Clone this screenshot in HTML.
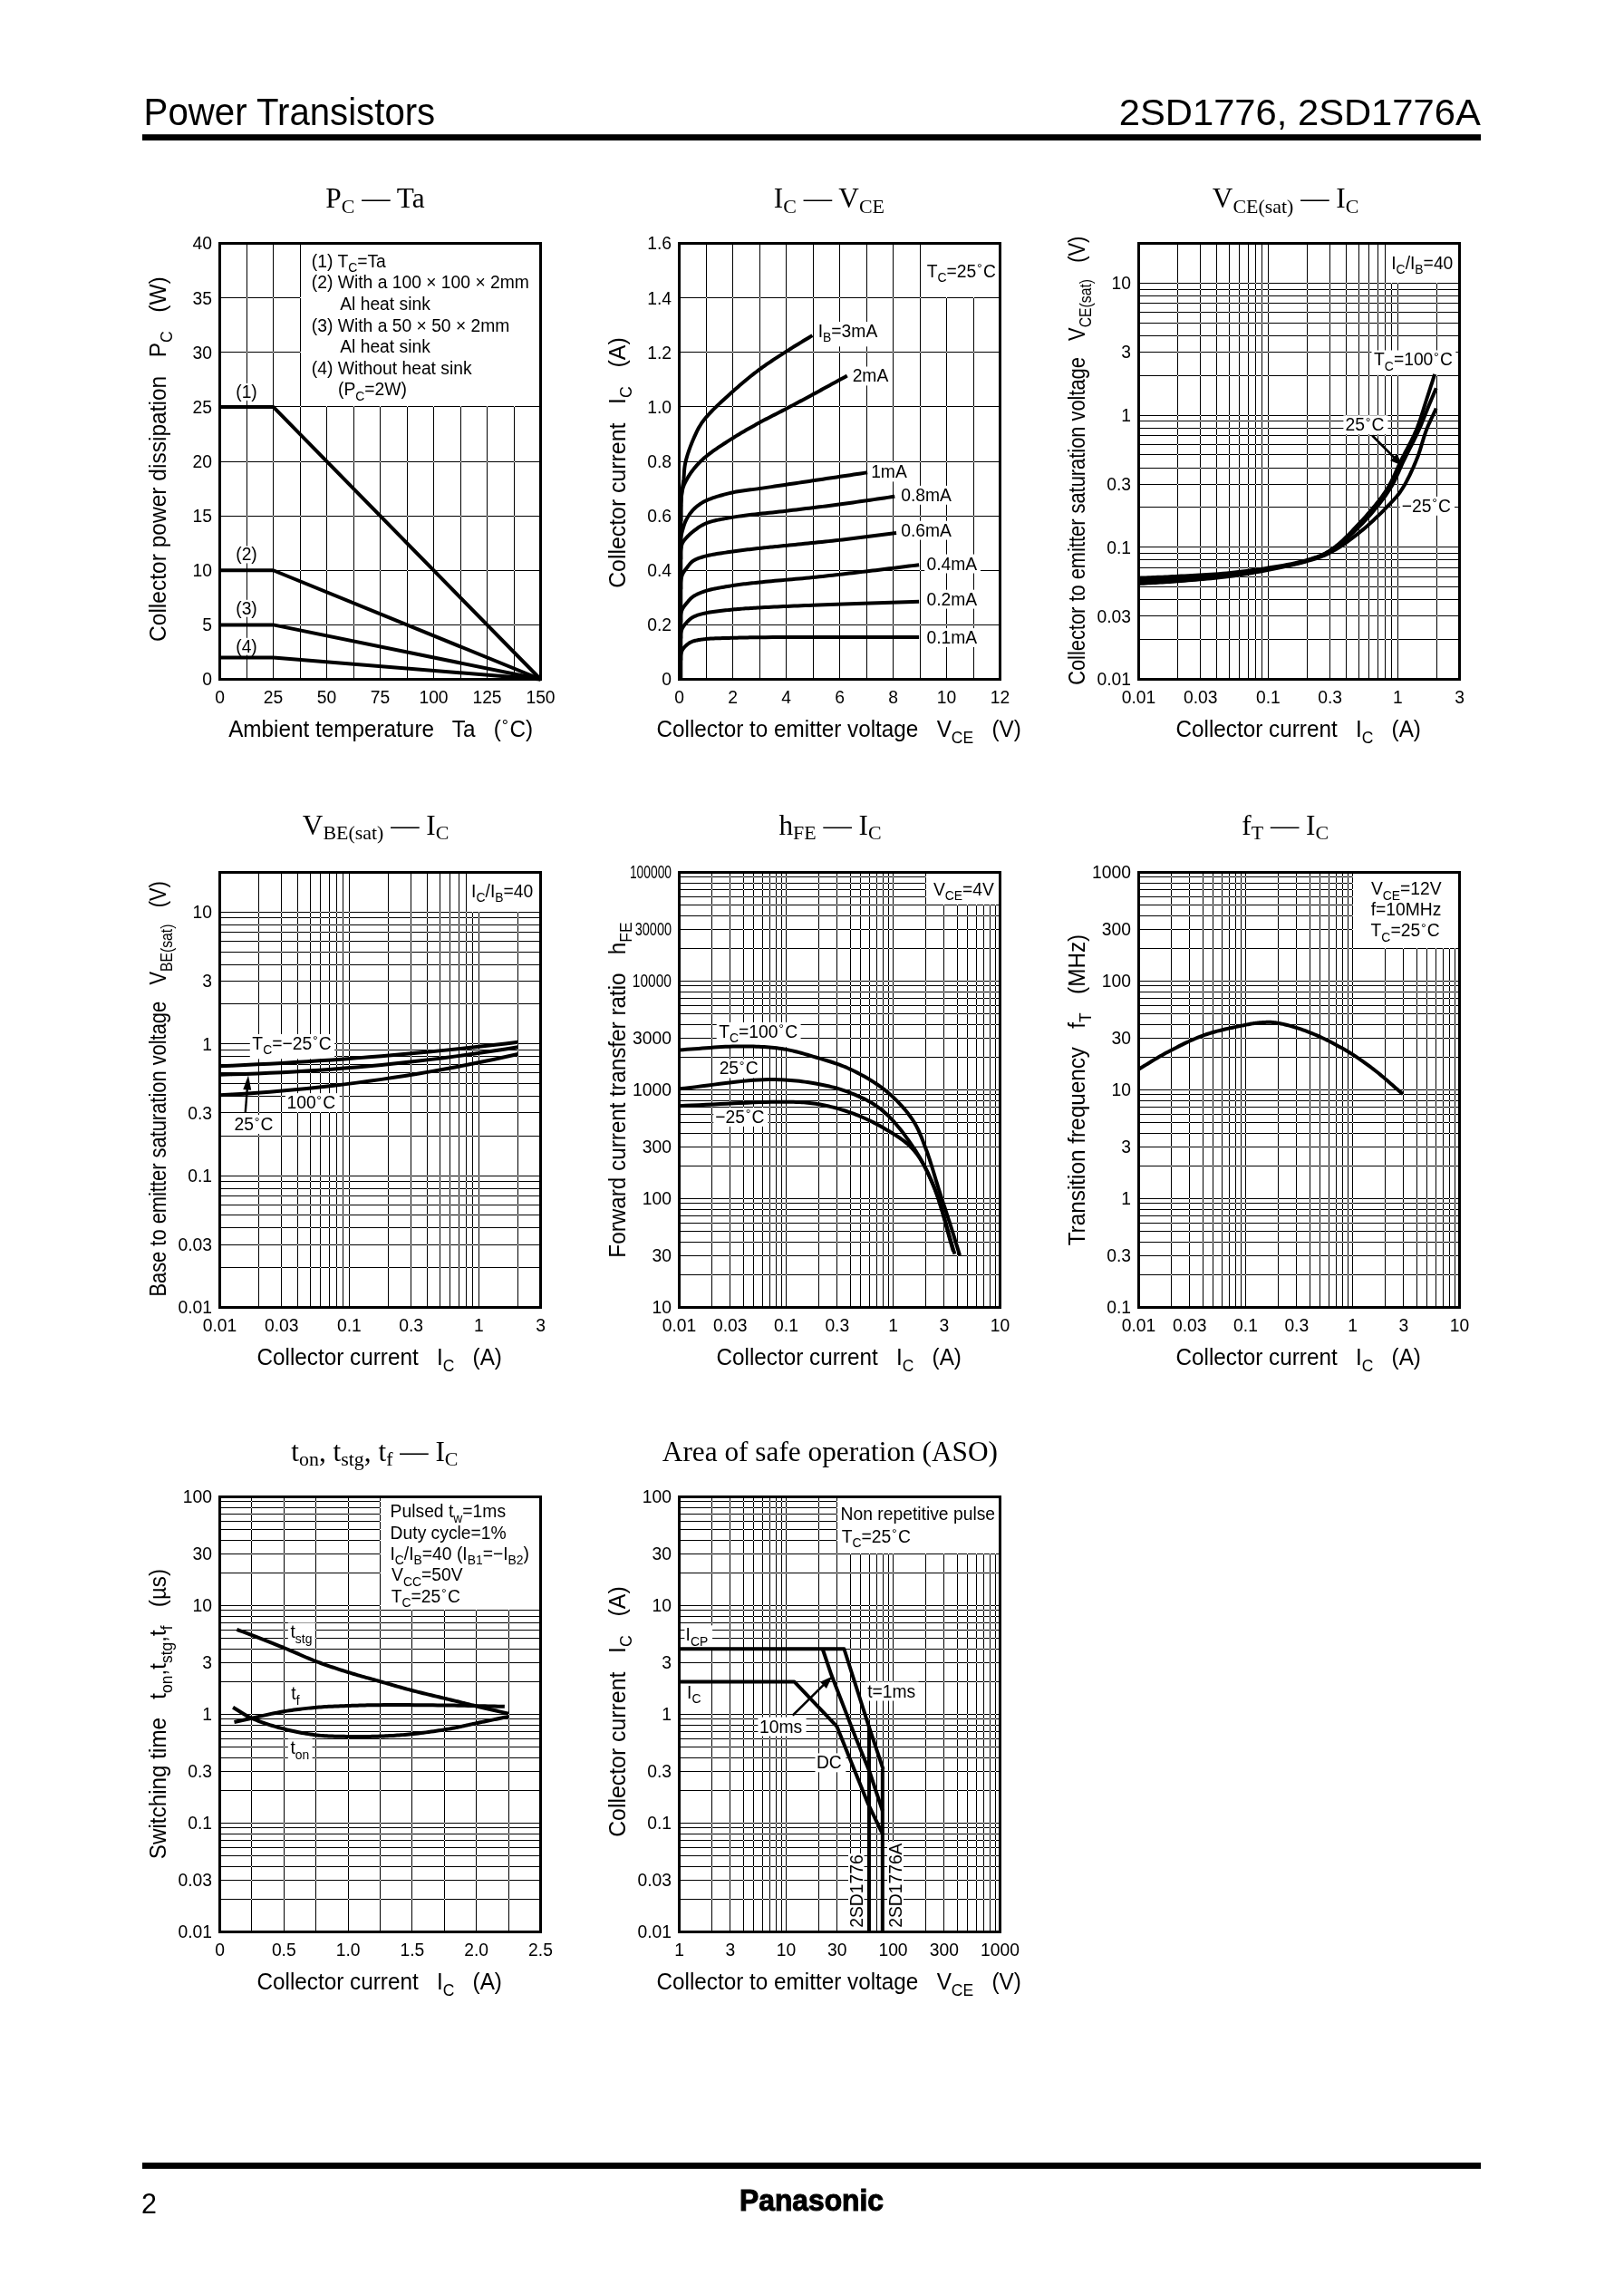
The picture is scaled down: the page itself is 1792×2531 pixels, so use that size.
<!DOCTYPE html>
<html><head><meta charset="utf-8"><title>2SD1776, 2SD1776A - Power Transistors</title>
<style>html,body{margin:0;padding:0;background:#fff;} svg{display:block;will-change:transform;}</style></head>
<body><svg width="1792" height="2531" viewBox="0 0 1792 2531">
<rect x="0" y="0" width="1792" height="2531" fill="#fff"/>
<path d='M272,268.5h1V749.5h-1z M301,268.5h1V749.5h-1z M331,268.5h1V749.5h-1z M360,268.5h1V749.5h-1z M390,268.5h1V749.5h-1z M419,268.5h1V749.5h-1z M449,268.5h1V749.5h-1z M478,268.5h1V749.5h-1z M508,268.5h1V749.5h-1z M537,268.5h1V749.5h-1z M567,268.5h1V749.5h-1z M242.5,689v1H596.5v-1z M242.5,629v1H596.5v-1z M242.5,569v1H596.5v-1z M242.5,509v1H596.5v-1z M242.5,448v1H596.5v-1z M242.5,388v1H596.5v-1z M242.5,328v1H596.5v-1z' fill='#000' shape-rendering='crispEdges'/>
<rect x='332' y='269' width='264' height='179' fill='#fff' shape-rendering='crispEdges'/>
<path d='M779,268.5h1V749.5h-1z M808,268.5h1V749.5h-1z M838,268.5h1V749.5h-1z M867,268.5h1V749.5h-1z M897,268.5h1V749.5h-1z M926,268.5h1V749.5h-1z M956,268.5h1V749.5h-1z M985,268.5h1V749.5h-1z M1015,268.5h1V749.5h-1z M1044,268.5h1V749.5h-1z M1074,268.5h1V749.5h-1z M749.5,689v1H1103.5v-1z M749.5,629v1H1103.5v-1z M749.5,569v1H1103.5v-1z M749.5,509v1H1103.5v-1z M749.5,448v1H1103.5v-1z M749.5,388v1H1103.5v-1z M749.5,328v1H1103.5v-1z' fill='#000' shape-rendering='crispEdges'/>
<rect x='1016' y='269' width='87' height='59' fill='#fff' shape-rendering='crispEdges'/>
<path d='M1299,268.5h1V749.5h-1z M1324,268.5h1V749.5h-1z M1342,268.5h1V749.5h-1z M1356,268.5h1V749.5h-1z M1367,268.5h1V749.5h-1z M1377,268.5h1V749.5h-1z M1385,268.5h1V749.5h-1z M1392,268.5h1V749.5h-1z M1399,268.5h1V749.5h-1z M1442,268.5h1V749.5h-1z M1467,268.5h1V749.5h-1z M1485,268.5h1V749.5h-1z M1499,268.5h1V749.5h-1z M1510,268.5h1V749.5h-1z M1520,268.5h1V749.5h-1z M1528,268.5h1V749.5h-1z M1535,268.5h1V749.5h-1z M1542,268.5h1V749.5h-1z M1585,268.5h1V749.5h-1z M1256.5,705v1H1610.5v-1z M1256.5,679v1H1610.5v-1z M1256.5,661v1H1610.5v-1z M1256.5,647v1H1610.5v-1z M1256.5,636v1H1610.5v-1z M1256.5,626v1H1610.5v-1z M1256.5,617v1H1610.5v-1z M1256.5,610v1H1610.5v-1z M1256.5,603v1H1610.5v-1z M1256.5,559v1H1610.5v-1z M1256.5,534v1H1610.5v-1z M1256.5,516v1H1610.5v-1z M1256.5,501v1H1610.5v-1z M1256.5,490v1H1610.5v-1z M1256.5,480v1H1610.5v-1z M1256.5,472v1H1610.5v-1z M1256.5,464v1H1610.5v-1z M1256.5,458v1H1610.5v-1z M1256.5,414v1H1610.5v-1z M1256.5,388v1H1610.5v-1z M1256.5,370v1H1610.5v-1z M1256.5,356v1H1610.5v-1z M1256.5,344v1H1610.5v-1z M1256.5,334v1H1610.5v-1z M1256.5,326v1H1610.5v-1z M1256.5,319v1H1610.5v-1z M1256.5,312v1H1610.5v-1z' fill='#000' shape-rendering='crispEdges'/>
<rect x='1529' y='269' width='81' height='43' fill='#fff' shape-rendering='crispEdges'/>
<path d='M285,962.5h1V1442.5h-1z M310,962.5h1V1442.5h-1z M328,962.5h1V1442.5h-1z M342,962.5h1V1442.5h-1z M353,962.5h1V1442.5h-1z M363,962.5h1V1442.5h-1z M371,962.5h1V1442.5h-1z M378,962.5h1V1442.5h-1z M385,962.5h1V1442.5h-1z M428,962.5h1V1442.5h-1z M453,962.5h1V1442.5h-1z M471,962.5h1V1442.5h-1z M485,962.5h1V1442.5h-1z M496,962.5h1V1442.5h-1z M506,962.5h1V1442.5h-1z M514,962.5h1V1442.5h-1z M521,962.5h1V1442.5h-1z M528,962.5h1V1442.5h-1z M571,962.5h1V1442.5h-1z M242.5,1398v1H596.5v-1z M242.5,1373v1H596.5v-1z M242.5,1354v1H596.5v-1z M242.5,1340v1H596.5v-1z M242.5,1329v1H596.5v-1z M242.5,1319v1H596.5v-1z M242.5,1311v1H596.5v-1z M242.5,1303v1H596.5v-1z M242.5,1297v1H596.5v-1z M242.5,1253v1H596.5v-1z M242.5,1227v1H596.5v-1z M242.5,1209v1H596.5v-1z M242.5,1195v1H596.5v-1z M242.5,1183v1H596.5v-1z M242.5,1174v1H596.5v-1z M242.5,1165v1H596.5v-1z M242.5,1158v1H596.5v-1z M242.5,1151v1H596.5v-1z M242.5,1107v1H596.5v-1z M242.5,1082v1H596.5v-1z M242.5,1064v1H596.5v-1z M242.5,1050v1H596.5v-1z M242.5,1038v1H596.5v-1z M242.5,1028v1H596.5v-1z M242.5,1020v1H596.5v-1z M242.5,1012v1H596.5v-1z M242.5,1006v1H596.5v-1z' fill='#000' shape-rendering='crispEdges'/>
<rect x='515' y='963' width='81' height='43' fill='#fff' shape-rendering='crispEdges'/>
<path d='M785,962.5h1V1442.5h-1z M805,962.5h1V1442.5h-1z M820,962.5h1V1442.5h-1z M831,962.5h1V1442.5h-1z M841,962.5h1V1442.5h-1z M849,962.5h1V1442.5h-1z M856,962.5h1V1442.5h-1z M862,962.5h1V1442.5h-1z M867,962.5h1V1442.5h-1z M903,962.5h1V1442.5h-1z M923,962.5h1V1442.5h-1z M938,962.5h1V1442.5h-1z M949,962.5h1V1442.5h-1z M959,962.5h1V1442.5h-1z M967,962.5h1V1442.5h-1z M974,962.5h1V1442.5h-1z M980,962.5h1V1442.5h-1z M985,962.5h1V1442.5h-1z M1021,962.5h1V1442.5h-1z M1041,962.5h1V1442.5h-1z M1056,962.5h1V1442.5h-1z M1067,962.5h1V1442.5h-1z M1077,962.5h1V1442.5h-1z M1085,962.5h1V1442.5h-1z M1092,962.5h1V1442.5h-1z M1098,962.5h1V1442.5h-1z M749.5,1406v1H1103.5v-1z M749.5,1385v1H1103.5v-1z M749.5,1370v1H1103.5v-1z M749.5,1358v1H1103.5v-1z M749.5,1349v1H1103.5v-1z M749.5,1341v1H1103.5v-1z M749.5,1334v1H1103.5v-1z M749.5,1327v1H1103.5v-1z M749.5,1322v1H1103.5v-1z M749.5,1286v1H1103.5v-1z M749.5,1265v1H1103.5v-1z M749.5,1250v1H1103.5v-1z M749.5,1238v1H1103.5v-1z M749.5,1229v1H1103.5v-1z M749.5,1221v1H1103.5v-1z M749.5,1214v1H1103.5v-1z M749.5,1207v1H1103.5v-1z M749.5,1202v1H1103.5v-1z M749.5,1166v1H1103.5v-1z M749.5,1145v1H1103.5v-1z M749.5,1130v1H1103.5v-1z M749.5,1118v1H1103.5v-1z M749.5,1109v1H1103.5v-1z M749.5,1101v1H1103.5v-1z M749.5,1094v1H1103.5v-1z M749.5,1087v1H1103.5v-1z M749.5,1082v1H1103.5v-1z M749.5,1046v1H1103.5v-1z M749.5,1025v1H1103.5v-1z M749.5,1010v1H1103.5v-1z M749.5,998v1H1103.5v-1z M749.5,989v1H1103.5v-1z M749.5,981v1H1103.5v-1z M749.5,974v1H1103.5v-1z M749.5,967v1H1103.5v-1z' fill='#000' shape-rendering='crispEdges'/>
<rect x='1022' y='963' width='81' height='35' fill='#fff' shape-rendering='crispEdges'/>
<path d='M1292,962.5h1V1442.5h-1z M1312,962.5h1V1442.5h-1z M1327,962.5h1V1442.5h-1z M1338,962.5h1V1442.5h-1z M1348,962.5h1V1442.5h-1z M1356,962.5h1V1442.5h-1z M1363,962.5h1V1442.5h-1z M1369,962.5h1V1442.5h-1z M1374,962.5h1V1442.5h-1z M1410,962.5h1V1442.5h-1z M1430,962.5h1V1442.5h-1z M1445,962.5h1V1442.5h-1z M1456,962.5h1V1442.5h-1z M1466,962.5h1V1442.5h-1z M1474,962.5h1V1442.5h-1z M1481,962.5h1V1442.5h-1z M1487,962.5h1V1442.5h-1z M1492,962.5h1V1442.5h-1z M1528,962.5h1V1442.5h-1z M1548,962.5h1V1442.5h-1z M1563,962.5h1V1442.5h-1z M1574,962.5h1V1442.5h-1z M1584,962.5h1V1442.5h-1z M1592,962.5h1V1442.5h-1z M1599,962.5h1V1442.5h-1z M1605,962.5h1V1442.5h-1z M1256.5,1406v1H1610.5v-1z M1256.5,1385v1H1610.5v-1z M1256.5,1370v1H1610.5v-1z M1256.5,1358v1H1610.5v-1z M1256.5,1349v1H1610.5v-1z M1256.5,1341v1H1610.5v-1z M1256.5,1334v1H1610.5v-1z M1256.5,1327v1H1610.5v-1z M1256.5,1322v1H1610.5v-1z M1256.5,1286v1H1610.5v-1z M1256.5,1265v1H1610.5v-1z M1256.5,1250v1H1610.5v-1z M1256.5,1238v1H1610.5v-1z M1256.5,1229v1H1610.5v-1z M1256.5,1221v1H1610.5v-1z M1256.5,1214v1H1610.5v-1z M1256.5,1207v1H1610.5v-1z M1256.5,1202v1H1610.5v-1z M1256.5,1166v1H1610.5v-1z M1256.5,1145v1H1610.5v-1z M1256.5,1130v1H1610.5v-1z M1256.5,1118v1H1610.5v-1z M1256.5,1109v1H1610.5v-1z M1256.5,1101v1H1610.5v-1z M1256.5,1094v1H1610.5v-1z M1256.5,1087v1H1610.5v-1z M1256.5,1082v1H1610.5v-1z M1256.5,1046v1H1610.5v-1z M1256.5,1025v1H1610.5v-1z M1256.5,1010v1H1610.5v-1z M1256.5,998v1H1610.5v-1z M1256.5,989v1H1610.5v-1z M1256.5,981v1H1610.5v-1z M1256.5,974v1H1610.5v-1z M1256.5,967v1H1610.5v-1z' fill='#000' shape-rendering='crispEdges'/>
<rect x='1493' y='963' width='117' height='83' fill='#fff' shape-rendering='crispEdges'/>
<path d='M277,1651.5h1V2131.5h-1z M313,1651.5h1V2131.5h-1z M348,1651.5h1V2131.5h-1z M384,1651.5h1V2131.5h-1z M419,1651.5h1V2131.5h-1z M454,1651.5h1V2131.5h-1z M490,1651.5h1V2131.5h-1z M525,1651.5h1V2131.5h-1z M561,1651.5h1V2131.5h-1z M242.5,2095v1H596.5v-1z M242.5,2074v1H596.5v-1z M242.5,2059v1H596.5v-1z M242.5,2047v1H596.5v-1z M242.5,2038v1H596.5v-1z M242.5,2030v1H596.5v-1z M242.5,2023v1H596.5v-1z M242.5,2016v1H596.5v-1z M242.5,2011v1H596.5v-1z M242.5,1975v1H596.5v-1z M242.5,1954v1H596.5v-1z M242.5,1939v1H596.5v-1z M242.5,1927v1H596.5v-1z M242.5,1918v1H596.5v-1z M242.5,1910v1H596.5v-1z M242.5,1903v1H596.5v-1z M242.5,1896v1H596.5v-1z M242.5,1891v1H596.5v-1z M242.5,1855v1H596.5v-1z M242.5,1834v1H596.5v-1z M242.5,1819v1H596.5v-1z M242.5,1807v1H596.5v-1z M242.5,1798v1H596.5v-1z M242.5,1790v1H596.5v-1z M242.5,1783v1H596.5v-1z M242.5,1776v1H596.5v-1z M242.5,1771v1H596.5v-1z M242.5,1735v1H596.5v-1z M242.5,1714v1H596.5v-1z M242.5,1699v1H596.5v-1z M242.5,1687v1H596.5v-1z M242.5,1678v1H596.5v-1z M242.5,1670v1H596.5v-1z M242.5,1663v1H596.5v-1z M242.5,1656v1H596.5v-1z' fill='#000' shape-rendering='crispEdges'/>
<rect x='420' y='1652' width='176' height='124' fill='#fff' shape-rendering='crispEdges'/>
<path d='M785,1651.5h1V2131.5h-1z M805,1651.5h1V2131.5h-1z M820,1651.5h1V2131.5h-1z M831,1651.5h1V2131.5h-1z M841,1651.5h1V2131.5h-1z M849,1651.5h1V2131.5h-1z M856,1651.5h1V2131.5h-1z M862,1651.5h1V2131.5h-1z M867,1651.5h1V2131.5h-1z M903,1651.5h1V2131.5h-1z M923,1651.5h1V2131.5h-1z M938,1651.5h1V2131.5h-1z M949,1651.5h1V2131.5h-1z M959,1651.5h1V2131.5h-1z M967,1651.5h1V2131.5h-1z M974,1651.5h1V2131.5h-1z M980,1651.5h1V2131.5h-1z M985,1651.5h1V2131.5h-1z M1021,1651.5h1V2131.5h-1z M1041,1651.5h1V2131.5h-1z M1056,1651.5h1V2131.5h-1z M1067,1651.5h1V2131.5h-1z M1077,1651.5h1V2131.5h-1z M1085,1651.5h1V2131.5h-1z M1092,1651.5h1V2131.5h-1z M1098,1651.5h1V2131.5h-1z M749.5,2095v1H1103.5v-1z M749.5,2074v1H1103.5v-1z M749.5,2059v1H1103.5v-1z M749.5,2047v1H1103.5v-1z M749.5,2038v1H1103.5v-1z M749.5,2030v1H1103.5v-1z M749.5,2023v1H1103.5v-1z M749.5,2016v1H1103.5v-1z M749.5,2011v1H1103.5v-1z M749.5,1975v1H1103.5v-1z M749.5,1954v1H1103.5v-1z M749.5,1939v1H1103.5v-1z M749.5,1927v1H1103.5v-1z M749.5,1918v1H1103.5v-1z M749.5,1910v1H1103.5v-1z M749.5,1903v1H1103.5v-1z M749.5,1896v1H1103.5v-1z M749.5,1891v1H1103.5v-1z M749.5,1855v1H1103.5v-1z M749.5,1834v1H1103.5v-1z M749.5,1819v1H1103.5v-1z M749.5,1807v1H1103.5v-1z M749.5,1798v1H1103.5v-1z M749.5,1790v1H1103.5v-1z M749.5,1783v1H1103.5v-1z M749.5,1776v1H1103.5v-1z M749.5,1771v1H1103.5v-1z M749.5,1735v1H1103.5v-1z M749.5,1714v1H1103.5v-1z M749.5,1699v1H1103.5v-1z M749.5,1687v1H1103.5v-1z M749.5,1678v1H1103.5v-1z M749.5,1670v1H1103.5v-1z M749.5,1663v1H1103.5v-1z M749.5,1656v1H1103.5v-1z' fill='#000' shape-rendering='crispEdges'/>
<rect x='924' y='1652' width='179' height='62' fill='#fff' shape-rendering='crispEdges'/>
<rect x='259.21' y='423.00' width='25.59' height='18.90' fill='#fff'/>
<rect x='259.21' y='602.50' width='25.59' height='18.90' fill='#fff'/>
<rect x='259.21' y='661.80' width='25.59' height='18.90' fill='#fff'/>
<rect x='259.21' y='703.80' width='25.59' height='18.90' fill='#fff'/>
<rect x='901.50' y='355.00' width='71.59' height='27.34' fill='#fff'/>
<rect x='938.60' y='404.50' width='45.68' height='20.90' fill='#fff'/>
<rect x='959.60' y='510.50' width='45.68' height='20.90' fill='#fff'/>
<rect x='992.00' y='535.90' width='61.78' height='20.90' fill='#fff'/>
<rect x='992.00' y='574.70' width='61.78' height='20.90' fill='#fff'/>
<rect x='1020.20' y='611.60' width='61.78' height='20.90' fill='#fff'/>
<rect x='1020.20' y='650.70' width='61.78' height='20.90' fill='#fff'/>
<rect x='1020.20' y='693.10' width='61.78' height='20.90' fill='#fff'/>
<rect x='1513.50' y='386.50' width='92.88' height='27.34' fill='#fff'/>
<rect x='1482.40' y='458.30' width='49.05' height='20.90' fill='#fff'/>
<rect x='1544.70' y='547.90' width='60.32' height='20.90' fill='#fff'/>
<rect x='275.80' y='1141.00' width='93.41' height='27.34' fill='#fff'/>
<rect x='314.90' y='1206.10' width='59.78' height='20.90' fill='#fff'/>
<rect x='256.40' y='1230.10' width='49.05' height='20.90' fill='#fff'/>
<rect x='790.70' y='1127.90' width='92.88' height='27.34' fill='#fff'/>
<rect x='791.60' y='1168.50' width='49.05' height='20.90' fill='#fff'/>
<rect x='787.20' y='1222.00' width='60.32' height='20.90' fill='#fff'/>
<rect x='317.80' y='1790.40' width='29.90' height='27.34' fill='#fff'/>
<rect x='317.80' y='1918.40' width='26.82' height='27.34' fill='#fff'/>
<rect x='755.40' y='1793.30' width='30.67' height='27.34' fill='#fff'/>
<rect x='954.50' y='1855.60' width='59.09' height='20.90' fill='#fff'/>
<rect x='836.40' y='1894.60' width='53.19' height='20.90' fill='#fff'/>
<rect x='899.50' y='1934.40' width='33.88' height='20.90' fill='#fff'/>
<rect x='936' y='2045' width='17.5' height='85' fill='#fff'/>
<rect x='979' y='2032' width='18' height='98' fill='#fff'/>
<text x='0' y='0' font-family="'Liberation Sans', Arial, Helvetica, sans-serif" font-size='40.2' transform='translate(158.60 137.6) scale(1 1.065)'>Power Transistors</text>
<text x='0' y='0' font-family="'Liberation Sans', Arial, Helvetica, sans-serif" font-size='40.2' textLength='399' lengthAdjust='spacingAndGlyphs' transform='translate(1234.78 137.6) scale(1 1.02)'>2SD1776, 2SD1776A</text>
<rect x='157.00' y='148.20' width='1477.00' height='6.80' fill='#000'/>
<rect x='157.00' y='2386.00' width='1477.00' height='6.90' fill='#000'/>
<text x='0' y='0' font-family="'Liberation Sans', Arial, Helvetica, sans-serif" font-size='30.5' text-anchor='start' transform='translate(155.97 2442.00) scale(1 1.04)' ><tspan>2</tspan></text>
<text x='816' y='2439.2' font-family="'Liberation Sans', Arial, sans-serif" font-weight='bold' font-size='33' textLength='159' lengthAdjust='spacingAndGlyphs' stroke='#000' stroke-width='1.1'>Panasonic</text>
<text x='0' y='0' font-family="'Liberation Sans', Arial, Helvetica, sans-serif" font-size='19.3' text-anchor='end' transform='translate(234.00 756.40) scale(1 1.0)' ><tspan>0</tspan></text>
<text x='0' y='0' font-family="'Liberation Sans', Arial, Helvetica, sans-serif" font-size='19.3' text-anchor='end' transform='translate(234.00 696.27) scale(1 1.0)' ><tspan>5</tspan></text>
<text x='0' y='0' font-family="'Liberation Sans', Arial, Helvetica, sans-serif" font-size='19.3' text-anchor='end' transform='translate(234.00 636.15) scale(1 1.0)' ><tspan>10</tspan></text>
<text x='0' y='0' font-family="'Liberation Sans', Arial, Helvetica, sans-serif" font-size='19.3' text-anchor='end' transform='translate(234.00 576.02) scale(1 1.0)' ><tspan>15</tspan></text>
<text x='0' y='0' font-family="'Liberation Sans', Arial, Helvetica, sans-serif" font-size='19.3' text-anchor='end' transform='translate(234.00 515.90) scale(1 1.0)' ><tspan>20</tspan></text>
<text x='0' y='0' font-family="'Liberation Sans', Arial, Helvetica, sans-serif" font-size='19.3' text-anchor='end' transform='translate(234.00 455.77) scale(1 1.0)' ><tspan>25</tspan></text>
<text x='0' y='0' font-family="'Liberation Sans', Arial, Helvetica, sans-serif" font-size='19.3' text-anchor='end' transform='translate(234.00 395.65) scale(1 1.0)' ><tspan>30</tspan></text>
<text x='0' y='0' font-family="'Liberation Sans', Arial, Helvetica, sans-serif" font-size='19.3' text-anchor='end' transform='translate(234.00 335.52) scale(1 1.0)' ><tspan>35</tspan></text>
<text x='0' y='0' font-family="'Liberation Sans', Arial, Helvetica, sans-serif" font-size='19.3' text-anchor='end' transform='translate(234.00 275.40) scale(1 1.0)' ><tspan>40</tspan></text>
<text x='0' y='0' font-family="'Liberation Sans', Arial, Helvetica, sans-serif" font-size='19.3' text-anchor='middle' transform='translate(242.50 775.50) scale(1 1.0)' ><tspan>0</tspan></text>
<text x='0' y='0' font-family="'Liberation Sans', Arial, Helvetica, sans-serif" font-size='19.3' text-anchor='middle' transform='translate(301.50 775.50) scale(1 1.0)' ><tspan>25</tspan></text>
<text x='0' y='0' font-family="'Liberation Sans', Arial, Helvetica, sans-serif" font-size='19.3' text-anchor='middle' transform='translate(360.50 775.50) scale(1 1.0)' ><tspan>50</tspan></text>
<text x='0' y='0' font-family="'Liberation Sans', Arial, Helvetica, sans-serif" font-size='19.3' text-anchor='middle' transform='translate(419.50 775.50) scale(1 1.0)' ><tspan>75</tspan></text>
<text x='0' y='0' font-family="'Liberation Sans', Arial, Helvetica, sans-serif" font-size='19.3' text-anchor='middle' transform='translate(478.50 775.50) scale(1 1.0)' ><tspan>100</tspan></text>
<text x='0' y='0' font-family="'Liberation Sans', Arial, Helvetica, sans-serif" font-size='19.3' text-anchor='middle' transform='translate(537.50 775.50) scale(1 1.0)' ><tspan>125</tspan></text>
<text x='0' y='0' font-family="'Liberation Sans', Arial, Helvetica, sans-serif" font-size='19.3' text-anchor='middle' transform='translate(596.50 775.50) scale(1 1.0)' ><tspan>150</tspan></text>
<text x='0' y='0' font-family="'Liberation Sans', Arial, Helvetica, sans-serif" font-size='19.3' text-anchor='start' transform='translate(343.80 294.90) scale(1 1.04)' ><tspan>(1) T</tspan><tspan dy='5.21' font-size='13.90'>C</tspan><tspan dy='-5.21'>=Ta</tspan></text>
<text x='0' y='0' font-family="'Liberation Sans', Arial, Helvetica, sans-serif" font-size='19.3' text-anchor='start' transform='translate(343.80 318.47) scale(1 1.04)' ><tspan>(2) With a 100 × 100 × 2mm</tspan></text>
<text x='0' y='0' font-family="'Liberation Sans', Arial, Helvetica, sans-serif" font-size='19.3' text-anchor='start' transform='translate(375.16 342.04) scale(1 1.04)' ><tspan>Al heat sink</tspan></text>
<text x='0' y='0' font-family="'Liberation Sans', Arial, Helvetica, sans-serif" font-size='19.3' text-anchor='start' transform='translate(343.80 365.61) scale(1 1.04)' ><tspan>(3) With a 50 × 50 × 2mm</tspan></text>
<text x='0' y='0' font-family="'Liberation Sans', Arial, Helvetica, sans-serif" font-size='19.3' text-anchor='start' transform='translate(375.16 389.18) scale(1 1.04)' ><tspan>Al heat sink</tspan></text>
<text x='0' y='0' font-family="'Liberation Sans', Arial, Helvetica, sans-serif" font-size='19.3' text-anchor='start' transform='translate(343.80 412.75) scale(1 1.04)' ><tspan>(4) Without heat sink</tspan></text>
<text x='0' y='0' font-family="'Liberation Sans', Arial, Helvetica, sans-serif" font-size='19.3' text-anchor='start' transform='translate(373.00 436.32) scale(1 1.04)' ><tspan>(P</tspan><tspan dy='5.21' font-size='13.90'>C</tspan><tspan dy='-5.21'>=2W)</tspan></text>
<text x='0' y='0' font-family="'Liberation Sans', Arial, Helvetica, sans-serif" font-size='19.3' text-anchor='middle' transform='translate(272.00 438.90) scale(1 1.04)' ><tspan>(1)</tspan></text>
<text x='0' y='0' font-family="'Liberation Sans', Arial, Helvetica, sans-serif" font-size='19.3' text-anchor='middle' transform='translate(272.00 618.40) scale(1 1.04)' ><tspan>(2)</tspan></text>
<text x='0' y='0' font-family="'Liberation Sans', Arial, Helvetica, sans-serif" font-size='19.3' text-anchor='middle' transform='translate(272.00 677.70) scale(1 1.04)' ><tspan>(3)</tspan></text>
<text x='0' y='0' font-family="'Liberation Sans', Arial, Helvetica, sans-serif" font-size='19.3' text-anchor='middle' transform='translate(272.00 719.70) scale(1 1.04)' ><tspan>(4)</tspan></text>
<polyline points='242.50,448.88 301.50,448.88 596.50,749.50' fill='none' stroke='#000' stroke-width='4.0' stroke-linejoin='round' stroke-linecap='butt'/>
<polyline points='242.50,629.25 301.50,629.25 596.50,749.50' fill='none' stroke='#000' stroke-width='4.0' stroke-linejoin='round' stroke-linecap='butt'/>
<polyline points='242.50,689.38 301.50,689.38 596.50,749.50' fill='none' stroke='#000' stroke-width='4.0' stroke-linejoin='round' stroke-linecap='butt'/>
<polyline points='242.50,725.45 301.50,725.45 596.50,749.50' fill='none' stroke='#000' stroke-width='4.0' stroke-linejoin='round' stroke-linecap='butt'/>
<text x='0' y='0' font-family="'Liberation Serif', 'Times New Roman', serif" font-size='31.3' xml:space='preserve' style='white-space:pre' transform='translate(359.30 229.00) scale(1 1.0)' ><tspan>P</tspan><tspan dy='5.79' font-size='21.91'>C</tspan><tspan dy='-5.79'> — Ta</tspan></text>
<text x='0' y='0' font-family="'Liberation Sans', Arial, Helvetica, sans-serif" font-size='24.55' xml:space='preserve' style='white-space:pre' transform='translate(183.00 707.95) rotate(-90) scale(1.0 1.04)' ><tspan>Collector power dissipation   P</tspan><tspan dy='6.63' font-size='17.68'>C</tspan><tspan dy='-6.63'>   (W)</tspan></text>
<text x='0' y='0' font-family="'Liberation Sans', Arial, Helvetica, sans-serif" font-size='24.3' xml:space='preserve' style='white-space:pre' transform='translate(252.15 812.80) scale(1 1.04)' ><tspan>Ambient temperature   Ta   (</tspan><tspan dy='-5.35' dx='0.97' font-size='17.98'>°</tspan><tspan dy='5.35' dx='1.46'>C)</tspan></text>
<text x='0' y='0' font-family="'Liberation Sans', Arial, Helvetica, sans-serif" font-size='19.3' text-anchor='end' transform='translate(741.00 756.40) scale(1 1.0)' ><tspan>0</tspan></text>
<text x='0' y='0' font-family="'Liberation Sans', Arial, Helvetica, sans-serif" font-size='19.3' text-anchor='end' transform='translate(741.00 696.27) scale(1 1.0)' ><tspan>0.2</tspan></text>
<text x='0' y='0' font-family="'Liberation Sans', Arial, Helvetica, sans-serif" font-size='19.3' text-anchor='end' transform='translate(741.00 636.15) scale(1 1.0)' ><tspan>0.4</tspan></text>
<text x='0' y='0' font-family="'Liberation Sans', Arial, Helvetica, sans-serif" font-size='19.3' text-anchor='end' transform='translate(741.00 576.02) scale(1 1.0)' ><tspan>0.6</tspan></text>
<text x='0' y='0' font-family="'Liberation Sans', Arial, Helvetica, sans-serif" font-size='19.3' text-anchor='end' transform='translate(741.00 515.90) scale(1 1.0)' ><tspan>0.8</tspan></text>
<text x='0' y='0' font-family="'Liberation Sans', Arial, Helvetica, sans-serif" font-size='19.3' text-anchor='end' transform='translate(741.00 455.77) scale(1 1.0)' ><tspan>1.0</tspan></text>
<text x='0' y='0' font-family="'Liberation Sans', Arial, Helvetica, sans-serif" font-size='19.3' text-anchor='end' transform='translate(741.00 395.65) scale(1 1.0)' ><tspan>1.2</tspan></text>
<text x='0' y='0' font-family="'Liberation Sans', Arial, Helvetica, sans-serif" font-size='19.3' text-anchor='end' transform='translate(741.00 335.53) scale(1 1.0)' ><tspan>1.4</tspan></text>
<text x='0' y='0' font-family="'Liberation Sans', Arial, Helvetica, sans-serif" font-size='19.3' text-anchor='end' transform='translate(741.00 275.40) scale(1 1.0)' ><tspan>1.6</tspan></text>
<text x='0' y='0' font-family="'Liberation Sans', Arial, Helvetica, sans-serif" font-size='19.3' text-anchor='middle' transform='translate(749.50 775.50) scale(1 1.0)' ><tspan>0</tspan></text>
<text x='0' y='0' font-family="'Liberation Sans', Arial, Helvetica, sans-serif" font-size='19.3' text-anchor='middle' transform='translate(808.50 775.50) scale(1 1.0)' ><tspan>2</tspan></text>
<text x='0' y='0' font-family="'Liberation Sans', Arial, Helvetica, sans-serif" font-size='19.3' text-anchor='middle' transform='translate(867.50 775.50) scale(1 1.0)' ><tspan>4</tspan></text>
<text x='0' y='0' font-family="'Liberation Sans', Arial, Helvetica, sans-serif" font-size='19.3' text-anchor='middle' transform='translate(926.50 775.50) scale(1 1.0)' ><tspan>6</tspan></text>
<text x='0' y='0' font-family="'Liberation Sans', Arial, Helvetica, sans-serif" font-size='19.3' text-anchor='middle' transform='translate(985.50 775.50) scale(1 1.0)' ><tspan>8</tspan></text>
<text x='0' y='0' font-family="'Liberation Sans', Arial, Helvetica, sans-serif" font-size='19.3' text-anchor='middle' transform='translate(1044.50 775.50) scale(1 1.0)' ><tspan>10</tspan></text>
<text x='0' y='0' font-family="'Liberation Sans', Arial, Helvetica, sans-serif" font-size='19.3' text-anchor='middle' transform='translate(1103.50 775.50) scale(1 1.0)' ><tspan>12</tspan></text>
<polyline points='751.27,749.50 751.27,557.10' fill='none' stroke='#000' stroke-width='4.0' stroke-linejoin='round' stroke-linecap='butt'/>
<path d='M751.27,575.14 L751.28,574.01 L751.28,572.87 L751.28,571.73 L751.28,570.59 L751.28,569.44 L751.28,568.30 L751.28,567.16 L751.28,566.01 L751.28,564.88 L751.29,563.74 L751.30,562.61 L751.31,561.49 L751.33,560.38 L751.35,559.28 L751.38,558.18 L751.42,557.10 L751.46,556.12 L751.50,555.14 L751.54,554.17 L751.59,553.20 L751.64,552.24 L751.70,551.29 L751.76,550.33 L751.82,549.39 L751.88,548.45 L751.95,547.52 L752.03,546.59 L752.10,545.67 L752.18,544.76 L752.27,543.86 L752.36,542.96 L752.45,542.07 L752.54,541.28 L752.63,540.52 L752.73,539.77 L752.84,539.03 L752.95,538.31 L753.06,537.59 L753.18,536.87 L753.29,536.15 L753.41,535.43 L753.53,534.71 L753.65,533.97 L753.77,533.22 L753.88,532.46 L754.00,531.68 L754.11,530.87 L754.22,530.04 L754.35,528.96 L754.45,527.85 L754.55,526.71 L754.63,525.55 L754.71,524.37 L754.79,523.18 L754.87,521.96 L754.95,520.73 L755.04,519.48 L755.15,518.22 L755.27,516.95 L755.42,515.68 L755.59,514.39 L755.79,513.10 L756.02,511.80 L756.28,510.50 L756.65,508.92 L757.06,507.30 L757.50,505.64 L757.98,503.96 L758.50,502.25 L759.04,500.52 L759.61,498.79 L760.20,497.05 L760.81,495.31 L761.45,493.59 L762.09,491.87 L762.75,490.18 L763.41,488.52 L764.08,486.89 L764.76,485.29 L765.43,483.75 L766.02,482.41 L766.60,481.10 L767.18,479.82 L767.75,478.57 L768.32,477.34 L768.90,476.13 L769.50,474.92 L770.11,473.73 L770.75,472.54 L771.42,471.35 L772.12,470.15 L772.86,468.94 L773.65,467.71 L774.49,466.47 L775.39,465.20 L776.35,463.91 L777.83,462.01 L779.45,460.07 L781.20,458.08 L783.07,456.05 L785.03,454.00 L787.07,451.92 L789.19,449.83 L791.35,447.74 L793.55,445.65 L795.78,443.57 L798.01,441.50 L800.24,439.47 L802.45,437.47 L804.62,435.50 L806.74,433.59 L808.80,431.74 L810.63,430.09 L812.45,428.47 L814.26,426.88 L816.07,425.30 L817.88,423.75 L819.68,422.22 L821.49,420.70 L823.29,419.21 L825.10,417.72 L826.91,416.26 L828.74,414.80 L830.56,413.36 L832.40,411.93 L834.26,410.51 L836.12,409.10 L838.00,407.69 L839.88,406.30 L841.79,404.93 L843.71,403.57 L845.64,402.22 L847.58,400.89 L849.54,399.56 L851.50,398.25 L853.46,396.95 L855.42,395.67 L857.38,394.39 L859.34,393.12 L861.29,391.87 L863.23,390.62 L865.16,389.39 L867.08,388.16 L868.98,386.95 L870.73,385.83 L872.47,384.73 L874.20,383.64 L875.93,382.57 L877.64,381.51 L879.36,380.46 L881.07,379.42 L882.77,378.38 L884.48,377.35 L886.18,376.32 L887.88,375.29 L889.58,374.26 L891.28,373.23 L892.99,372.20 L894.70,371.16 L896.41,370.11' fill='none' stroke='#000' stroke-width='4.0' stroke-linejoin='round' stroke-linecap='butt'/>
<path d='M751.27,575.14 L751.28,574.01 L751.28,572.88 L751.28,571.74 L751.27,570.61 L751.26,569.47 L751.26,568.34 L751.25,567.20 L751.25,566.07 L751.24,564.93 L751.25,563.80 L751.26,562.68 L751.27,561.55 L751.29,560.43 L751.32,559.32 L751.37,558.20 L751.42,557.10 L751.47,556.04 L751.53,554.96 L751.59,553.87 L751.65,552.78 L751.71,551.69 L751.78,550.60 L751.86,549.51 L751.94,548.44 L752.04,547.37 L752.14,546.32 L752.25,545.29 L752.38,544.29 L752.52,543.31 L752.68,542.36 L752.85,541.44 L753.04,540.57 L753.19,539.94 L753.34,539.34 L753.50,538.76 L753.66,538.20 L753.83,537.65 L754.01,537.12 L754.19,536.61 L754.38,536.09 L754.58,535.58 L754.79,535.07 L755.01,534.56 L755.24,534.05 L755.48,533.52 L755.74,532.98 L756.00,532.42 L756.28,531.85 L756.67,531.08 L757.07,530.30 L757.50,529.50 L757.94,528.68 L758.40,527.86 L758.88,527.03 L759.38,526.19 L759.90,525.34 L760.43,524.49 L760.97,523.64 L761.53,522.79 L762.11,521.95 L762.70,521.10 L763.30,520.27 L763.92,519.44 L764.54,518.62 L765.27,517.70 L766.00,516.79 L766.75,515.89 L767.51,514.99 L768.28,514.09 L769.08,513.20 L769.89,512.31 L770.73,511.42 L771.59,510.53 L772.48,509.63 L773.39,508.74 L774.33,507.84 L775.30,506.94 L776.30,506.03 L777.34,505.11 L778.41,504.19 L779.93,502.93 L781.54,501.64 L783.24,500.35 L785.00,499.03 L786.83,497.71 L788.72,496.38 L790.65,495.05 L792.61,493.72 L794.60,492.39 L796.61,491.06 L798.63,489.75 L800.64,488.45 L802.64,487.17 L804.63,485.90 L806.58,484.66 L808.50,483.45 L810.33,482.29 L812.16,481.16 L814.00,480.03 L815.84,478.92 L817.67,477.83 L819.51,476.74 L821.36,475.67 L823.20,474.60 L825.04,473.54 L826.89,472.49 L828.74,471.45 L830.59,470.41 L832.44,469.38 L834.29,468.36 L836.14,467.33 L838.00,466.31 L839.83,465.31 L841.67,464.32 L843.51,463.34 L845.35,462.38 L847.20,461.41 L849.05,460.46 L850.89,459.51 L852.74,458.57 L854.59,457.63 L856.44,456.68 L858.29,455.74 L860.13,454.80 L861.98,453.85 L863.82,452.90 L865.66,451.94 L867.50,450.98 L869.32,450.02 L871.14,449.06 L872.94,448.10 L874.73,447.15 L876.52,446.20 L878.30,445.24 L880.09,444.29 L881.88,443.33 L883.68,442.37 L885.49,441.39 L887.31,440.42 L889.14,439.43 L891.00,438.43 L892.87,437.41 L894.78,436.39 L896.71,435.35 L898.95,434.13 L901.22,432.90 L903.53,431.65 L905.87,430.38 L908.23,429.09 L910.61,427.79 L913.01,426.48 L915.42,425.17 L917.84,423.84 L920.27,422.52 L922.70,421.19 L925.13,419.86 L927.55,418.54 L929.97,417.22 L932.37,415.91 L934.76,414.60' fill='none' stroke='#000' stroke-width='4.0' stroke-linejoin='round' stroke-linecap='butt'/>
<path d='M751.27,605.20 L751.27,604.45 L751.27,603.69 L751.26,602.93 L751.25,602.16 L751.24,601.40 L751.22,600.63 L751.21,599.87 L751.20,599.11 L751.19,598.35 L751.19,597.59 L751.20,596.84 L751.22,596.09 L751.24,595.35 L751.29,594.62 L751.34,593.89 L751.42,593.17 L751.50,592.52 L751.59,591.88 L751.69,591.24 L751.80,590.61 L751.92,589.98 L752.04,589.36 L752.18,588.74 L752.32,588.13 L752.46,587.51 L752.62,586.90 L752.78,586.29 L752.94,585.69 L753.11,585.08 L753.28,584.47 L753.45,583.86 L753.63,583.25 L753.81,582.64 L753.99,582.04 L754.17,581.43 L754.35,580.83 L754.53,580.24 L754.72,579.64 L754.91,579.04 L755.11,578.45 L755.32,577.85 L755.55,577.25 L755.78,576.66 L756.02,576.06 L756.29,575.46 L756.56,574.85 L756.86,574.25 L757.17,573.63 L757.57,572.89 L757.99,572.13 L758.43,571.37 L758.89,570.59 L759.36,569.81 L759.86,569.02 L760.38,568.23 L760.91,567.45 L761.46,566.67 L762.02,565.90 L762.60,565.14 L763.20,564.40 L763.81,563.67 L764.44,562.96 L765.07,562.27 L765.73,561.61 L766.41,560.95 L767.10,560.30 L767.80,559.67 L768.51,559.06 L769.24,558.47 L769.98,557.88 L770.74,557.31 L771.52,556.76 L772.32,556.21 L773.15,555.67 L774.00,555.14 L774.88,554.62 L775.78,554.11 L776.72,553.60 L777.70,553.09 L778.71,552.59 L780.21,551.89 L781.81,551.20 L783.49,550.52 L785.26,549.86 L787.09,549.21 L788.98,548.58 L790.91,547.96 L792.88,547.37 L794.88,546.78 L796.90,546.22 L798.92,545.68 L800.94,545.15 L802.95,544.65 L804.94,544.17 L806.89,543.71 L808.79,543.27 L810.60,542.88 L812.37,542.53 L814.12,542.21 L815.85,541.92 L817.58,541.66 L819.30,541.42 L821.02,541.19 L822.76,540.97 L824.52,540.76 L826.31,540.55 L828.13,540.34 L829.99,540.12 L831.90,539.88 L833.87,539.63 L835.90,539.36 L838.00,539.06 L841.11,538.61 L844.36,538.13 L847.74,537.63 L851.23,537.11 L854.82,536.58 L858.49,536.04 L862.23,535.48 L866.03,534.92 L869.87,534.34 L873.74,533.77 L877.61,533.19 L881.49,532.61 L885.35,532.04 L889.19,531.46 L892.97,530.90 L896.71,530.34 L900.46,529.79 L904.22,529.23 L907.99,528.66 L911.76,528.10 L915.54,527.54 L919.32,526.97 L923.10,526.41 L926.89,525.85 L930.67,525.28 L934.46,524.72 L938.25,524.15 L942.04,523.58 L945.83,523.02 L949.61,522.45 L953.40,521.89 L957.18,521.33' fill='none' stroke='#000' stroke-width='4.0' stroke-linejoin='round' stroke-linecap='butt'/>
<path d='M751.27,617.23 L751.28,616.56 L751.28,615.90 L751.27,615.23 L751.26,614.55 L751.25,613.87 L751.24,613.20 L751.23,612.52 L751.23,611.85 L751.22,611.18 L751.22,610.51 L751.23,609.85 L751.25,609.20 L751.27,608.56 L751.31,607.93 L751.36,607.31 L751.42,606.70 L751.48,606.19 L751.53,605.69 L751.59,605.19 L751.65,604.70 L751.72,604.22 L751.79,603.74 L751.86,603.26 L751.95,602.79 L752.04,602.32 L752.14,601.86 L752.25,601.41 L752.38,600.96 L752.52,600.51 L752.68,600.06 L752.85,599.62 L753.04,599.19 L753.26,598.74 L753.49,598.30 L753.75,597.87 L754.01,597.44 L754.30,597.02 L754.59,596.60 L754.90,596.19 L755.23,595.78 L755.56,595.37 L755.90,594.97 L756.24,594.57 L756.60,594.17 L756.96,593.77 L757.32,593.37 L757.69,592.97 L758.05,592.57 L758.47,592.13 L758.89,591.68 L759.32,591.24 L759.76,590.81 L760.20,590.37 L760.65,589.94 L761.11,589.50 L761.58,589.07 L762.06,588.64 L762.55,588.21 L763.06,587.79 L763.57,587.36 L764.09,586.94 L764.62,586.51 L765.17,586.08 L765.72,585.66 L766.41,585.14 L767.11,584.61 L767.81,584.08 L768.53,583.54 L769.26,583.01 L770.00,582.47 L770.76,581.94 L771.54,581.41 L772.34,580.89 L773.16,580.38 L774.01,579.87 L774.89,579.38 L775.79,578.89 L776.73,578.43 L777.70,577.98 L778.71,577.54 L780.19,576.96 L781.74,576.41 L783.35,575.89 L785.02,575.40 L786.75,574.93 L788.53,574.48 L790.37,574.06 L792.25,573.65 L794.18,573.25 L796.15,572.87 L798.17,572.49 L800.22,572.12 L802.32,571.75 L804.44,571.38 L806.61,571.01 L808.79,570.63 L811.92,570.11 L815.19,569.62 L818.58,569.15 L822.08,568.69 L825.68,568.25 L829.37,567.82 L833.12,567.41 L836.92,567.00 L840.76,566.59 L844.63,566.19 L848.50,565.79 L852.37,565.39 L856.22,564.99 L860.03,564.57 L863.80,564.15 L867.50,563.71 L871.15,563.27 L874.80,562.84 L878.44,562.40 L882.08,561.96 L885.72,561.52 L889.36,561.09 L892.99,560.65 L896.63,560.20 L900.27,559.76 L903.91,559.31 L907.56,558.86 L911.22,558.40 L914.88,557.93 L918.54,557.46 L922.22,556.98 L925.91,556.50 L929.71,555.99 L933.51,555.47 L937.33,554.95 L941.15,554.41 L944.98,553.87 L948.81,553.33 L952.66,552.78 L956.50,552.22 L960.35,551.67 L964.20,551.11 L968.05,550.55 L971.90,549.99 L975.74,549.43 L979.59,548.88 L983.43,548.33 L987.27,547.78' fill='none' stroke='#000' stroke-width='4.0' stroke-linejoin='round' stroke-linecap='butt'/>
<path d='M751.27,650.29 L751.28,649.73 L751.28,649.16 L751.27,648.59 L751.27,648.02 L751.26,647.44 L751.25,646.87 L751.24,646.30 L751.24,645.73 L751.24,645.16 L751.24,644.59 L751.25,644.03 L751.26,643.47 L751.29,642.91 L751.32,642.36 L751.36,641.81 L751.42,641.28 L751.47,640.78 L751.53,640.29 L751.59,639.81 L751.66,639.33 L751.72,638.85 L751.79,638.38 L751.87,637.90 L751.96,637.43 L752.05,636.97 L752.16,636.50 L752.27,636.04 L752.40,635.58 L752.54,635.12 L752.69,634.67 L752.86,634.21 L753.04,633.76 L753.26,633.27 L753.50,632.78 L753.75,632.30 L754.03,631.82 L754.32,631.34 L754.62,630.87 L754.93,630.40 L755.26,629.93 L755.59,629.46 L755.94,628.99 L756.28,628.53 L756.64,628.07 L756.99,627.61 L757.35,627.15 L757.70,626.70 L758.05,626.24 L758.42,625.77 L758.77,625.30 L759.13,624.82 L759.49,624.34 L759.84,623.86 L760.21,623.38 L760.58,622.91 L760.95,622.44 L761.34,621.98 L761.75,621.52 L762.16,621.08 L762.60,620.64 L763.05,620.22 L763.52,619.80 L764.02,619.41 L764.54,619.03 L765.22,618.58 L765.93,618.16 L766.66,617.75 L767.42,617.37 L768.20,617.00 L769.01,616.65 L769.85,616.31 L770.71,615.98 L771.59,615.67 L772.50,615.36 L773.43,615.07 L774.38,614.77 L775.35,614.48 L776.35,614.19 L777.37,613.91 L778.41,613.62 L779.96,613.21 L781.60,612.82 L783.31,612.45 L785.09,612.09 L786.93,611.74 L788.82,611.41 L790.75,611.09 L792.71,610.78 L794.70,610.47 L796.70,610.18 L798.71,609.89 L800.71,609.61 L802.70,609.33 L804.67,609.05 L806.60,608.78 L808.50,608.51 L810.35,608.24 L812.20,607.98 L814.04,607.73 L815.89,607.49 L817.73,607.25 L819.58,607.02 L821.42,606.80 L823.26,606.58 L825.10,606.36 L826.94,606.15 L828.79,605.93 L830.63,605.73 L832.47,605.52 L834.31,605.31 L836.16,605.11 L838.00,604.90 L839.82,604.70 L841.62,604.50 L843.39,604.31 L845.14,604.13 L846.88,603.95 L848.62,603.77 L850.37,603.60 L852.12,603.42 L853.90,603.25 L855.71,603.07 L857.54,602.89 L859.42,602.70 L861.35,602.51 L863.33,602.32 L865.38,602.11 L867.50,601.89 L870.60,601.58 L873.84,601.25 L877.20,600.92 L880.66,600.57 L884.22,600.22 L887.86,599.86 L891.57,599.49 L895.33,599.11 L899.14,598.72 L902.98,598.33 L906.83,597.94 L910.69,597.54 L914.54,597.13 L918.37,596.72 L922.16,596.30 L925.91,595.88 L929.79,595.44 L933.69,594.98 L937.60,594.51 L941.53,594.04 L945.46,593.56 L949.41,593.07 L953.36,592.57 L957.33,592.07 L961.29,591.57 L965.26,591.07 L969.23,590.56 L973.20,590.06 L977.17,589.55 L981.13,589.05 L985.09,588.56 L989.04,588.06' fill='none' stroke='#000' stroke-width='4.0' stroke-linejoin='round' stroke-linecap='butt'/>
<path d='M751.27,686.37 L751.28,685.80 L751.27,685.22 L751.27,684.64 L751.26,684.06 L751.24,683.47 L751.23,682.88 L751.22,682.29 L751.21,681.71 L751.21,681.13 L751.21,680.55 L751.21,679.99 L751.23,679.43 L751.26,678.89 L751.30,678.36 L751.35,677.85 L751.42,677.35 L751.48,676.97 L751.54,676.60 L751.61,676.24 L751.68,675.89 L751.75,675.55 L751.83,675.22 L751.92,674.89 L752.01,674.56 L752.11,674.24 L752.21,673.91 L752.33,673.59 L752.45,673.27 L752.58,672.94 L752.72,672.61 L752.88,672.28 L753.04,671.94 L753.26,671.51 L753.50,671.08 L753.76,670.65 L754.03,670.22 L754.32,669.78 L754.62,669.34 L754.94,668.90 L755.26,668.46 L755.60,668.03 L755.94,667.59 L756.29,667.15 L756.64,666.72 L756.99,666.29 L757.35,665.86 L757.70,665.44 L758.05,665.02 L758.42,664.59 L758.78,664.16 L759.14,663.73 L759.50,663.29 L759.86,662.86 L760.23,662.44 L760.60,662.01 L760.98,661.59 L761.37,661.17 L761.78,660.76 L762.19,660.35 L762.63,659.95 L763.08,659.55 L763.54,659.16 L764.03,658.78 L764.54,658.41 L765.23,657.95 L765.94,657.49 L766.67,657.05 L767.43,656.62 L768.21,656.20 L769.02,655.79 L769.85,655.39 L770.71,654.99 L771.59,654.61 L772.49,654.23 L773.42,653.86 L774.37,653.50 L775.35,653.14 L776.34,652.79 L777.37,652.44 L778.41,652.10 L779.96,651.62 L781.59,651.16 L783.30,650.72 L785.08,650.30 L786.91,649.88 L788.80,649.49 L790.74,649.10 L792.70,648.73 L794.69,648.37 L796.69,648.01 L798.70,647.67 L800.70,647.34 L802.69,647.02 L804.66,646.70 L806.60,646.39 L808.50,646.09 L810.33,645.80 L812.12,645.53 L813.89,645.27 L815.65,645.03 L817.39,644.79 L819.13,644.57 L820.87,644.36 L822.62,644.15 L824.40,643.95 L826.20,643.74 L828.04,643.54 L829.92,643.34 L831.84,643.13 L833.83,642.92 L835.88,642.70 L838.00,642.48 L841.12,642.15 L844.38,641.83 L847.77,641.50 L851.27,641.18 L854.87,640.86 L858.55,640.53 L862.30,640.20 L866.10,639.87 L869.95,639.54 L873.81,639.20 L877.69,638.86 L881.56,638.51 L885.41,638.16 L889.23,637.80 L893.00,637.44 L896.71,637.07 L900.38,636.69 L904.05,636.30 L907.72,635.91 L911.39,635.51 L915.06,635.11 L918.73,634.70 L922.39,634.29 L926.06,633.87 L929.73,633.45 L933.40,633.03 L937.07,632.60 L940.74,632.18 L944.41,631.75 L948.07,631.32 L951.74,630.88 L955.41,630.45 L959.08,630.02 L962.75,629.58 L966.42,629.14 L970.09,628.69 L973.76,628.24 L977.43,627.79 L981.10,627.34 L984.76,626.88 L988.43,626.43 L992.10,625.97 L995.77,625.51 L999.44,625.06 L1003.11,624.60 L1006.78,624.14 L1010.45,623.69 L1014.12,623.24' fill='none' stroke='#000' stroke-width='4.0' stroke-linejoin='round' stroke-linecap='butt'/>
<path d='M751.27,704.41 L751.28,704.03 L751.28,703.65 L751.28,703.27 L751.27,702.89 L751.26,702.51 L751.26,702.13 L751.25,701.75 L751.25,701.37 L751.25,700.99 L751.25,700.62 L751.26,700.24 L751.27,699.87 L751.29,699.49 L751.32,699.12 L751.37,698.76 L751.42,698.39 L751.47,698.04 L751.54,697.70 L751.60,697.35 L751.67,697.01 L751.74,696.67 L751.82,696.34 L751.90,696.00 L752.00,695.67 L752.09,695.33 L752.20,695.00 L752.32,694.66 L752.44,694.33 L752.57,693.99 L752.72,693.66 L752.87,693.32 L753.04,692.98 L753.26,692.57 L753.50,692.15 L753.75,691.73 L754.03,691.30 L754.31,690.88 L754.61,690.45 L754.93,690.03 L755.25,689.60 L755.58,689.18 L755.92,688.76 L756.27,688.35 L756.62,687.94 L756.98,687.53 L757.34,687.14 L757.70,686.75 L758.05,686.37 L758.41,685.99 L758.77,685.62 L759.13,685.25 L759.49,684.89 L759.86,684.53 L760.23,684.17 L760.61,683.82 L760.99,683.48 L761.39,683.14 L761.79,682.81 L762.21,682.48 L762.64,682.16 L763.09,681.85 L763.56,681.54 L764.04,681.25 L764.54,680.96 L765.23,680.59 L765.95,680.24 L766.69,679.91 L767.45,679.59 L768.24,679.28 L769.05,678.99 L769.88,678.70 L770.74,678.43 L771.62,678.16 L772.52,677.90 L773.45,677.65 L774.40,677.40 L775.37,677.16 L776.36,676.92 L777.38,676.68 L778.41,676.45 L779.96,676.12 L781.60,675.80 L783.32,675.50 L785.10,675.21 L786.94,674.94 L788.83,674.68 L790.76,674.43 L792.72,674.19 L794.71,673.96 L796.71,673.74 L798.71,673.53 L800.71,673.32 L802.70,673.12 L804.67,672.92 L806.60,672.73 L808.50,672.54 L810.33,672.36 L812.13,672.19 L813.90,672.04 L815.65,671.89 L817.40,671.75 L819.13,671.62 L820.88,671.49 L822.63,671.37 L824.41,671.25 L826.21,671.14 L828.04,671.02 L829.92,670.91 L831.85,670.80 L833.83,670.68 L835.88,670.56 L838.00,670.44 L841.08,670.26 L844.24,670.08 L847.48,669.91 L850.80,669.74 L854.19,669.57 L857.66,669.40 L861.21,669.23 L864.84,669.07 L868.55,668.90 L872.33,668.73 L876.20,668.57 L880.14,668.40 L884.16,668.24 L888.27,668.07 L892.45,667.90 L896.71,667.73 L902.94,667.49 L909.45,667.25 L916.22,667.00 L923.22,666.76 L930.42,666.52 L937.78,666.27 L945.28,666.03 L952.89,665.78 L960.58,665.54 L968.31,665.29 L976.07,665.05 L983.82,664.80 L991.52,664.56 L999.16,664.31 L1006.70,664.07 L1014.12,663.82' fill='none' stroke='#000' stroke-width='4.0' stroke-linejoin='round' stroke-linecap='butt'/>
<path d='M751.27,728.46 L751.28,728.08 L751.28,727.70 L751.28,727.32 L751.27,726.94 L751.26,726.56 L751.26,726.18 L751.25,725.80 L751.25,725.42 L751.25,725.04 L751.25,724.67 L751.26,724.29 L751.27,723.92 L751.29,723.54 L751.32,723.17 L751.37,722.81 L751.42,722.44 L751.47,722.09 L751.53,721.74 L751.60,721.40 L751.66,721.05 L751.73,720.71 L751.81,720.36 L751.89,720.02 L751.98,719.68 L752.08,719.35 L752.18,719.01 L752.30,718.68 L752.42,718.34 L752.56,718.01 L752.71,717.68 L752.87,717.36 L753.04,717.03 L753.26,716.66 L753.50,716.28 L753.75,715.90 L754.02,715.51 L754.31,715.13 L754.61,714.76 L754.93,714.38 L755.25,714.01 L755.58,713.65 L755.93,713.29 L756.27,712.94 L756.63,712.59 L756.98,712.26 L757.34,711.93 L757.70,711.62 L758.05,711.32 L758.40,711.04 L758.74,710.77 L759.09,710.51 L759.44,710.25 L759.78,710.00 L760.14,709.77 L760.50,709.53 L760.87,709.31 L761.24,709.09 L761.63,708.88 L762.03,708.67 L762.44,708.47 L762.87,708.27 L763.31,708.08 L763.77,707.90 L764.25,707.71 L764.97,707.46 L765.73,707.22 L766.52,707.00 L767.33,706.79 L768.18,706.60 L769.05,706.41 L769.95,706.24 L770.87,706.08 L771.82,705.92 L772.79,705.78 L773.78,705.64 L774.78,705.51 L775.81,705.38 L776.86,705.25 L777.92,705.13 L779.00,705.01 L780.56,704.85 L782.20,704.71 L783.89,704.59 L785.65,704.48 L787.46,704.39 L789.31,704.31 L791.19,704.24 L793.11,704.18 L795.04,704.13 L796.99,704.08 L798.94,704.03 L800.88,703.99 L802.82,703.95 L804.74,703.91 L806.64,703.86 L808.50,703.81 L810.30,703.75 L812.02,703.70 L813.68,703.65 L815.29,703.61 L816.89,703.56 L818.47,703.52 L820.07,703.49 L821.70,703.45 L823.38,703.42 L825.13,703.38 L826.95,703.35 L828.89,703.32 L830.94,703.29 L833.13,703.26 L835.48,703.23 L838.00,703.20 L844.95,703.14 L852.95,703.09 L861.88,703.04 L871.65,703.01 L882.13,702.99 L893.23,702.97 L904.83,702.96 L916.83,702.95 L929.12,702.95 L941.58,702.94 L954.12,702.94 L966.63,702.94 L978.98,702.94 L991.09,702.93 L1002.84,702.92 L1014.12,702.90' fill='none' stroke='#000' stroke-width='4.0' stroke-linejoin='round' stroke-linecap='butt'/>
<text x='0' y='0' font-family="'Liberation Sans', Arial, Helvetica, sans-serif" font-size='19.3' text-anchor='start' transform='translate(1022.77 305.80) scale(1 1.04)' ><tspan>T</tspan><tspan dy='5.21' font-size='13.90'>C</tspan><tspan dy='-5.21'>=25</tspan><tspan dy='-4.25' dx='0.77' font-size='14.28'>°</tspan><tspan dy='4.25' dx='1.16'>C</tspan></text>
<text x='0' y='0' font-family="'Liberation Sans', Arial, Helvetica, sans-serif" font-size='19.3' text-anchor='start' transform='translate(902.72 371.90) scale(1 1.04)' ><tspan>I</tspan><tspan dy='5.21' font-size='13.90'>B</tspan><tspan dy='-5.21'>=3mA</tspan></text>
<text x='0' y='0' font-family="'Liberation Sans', Arial, Helvetica, sans-serif" font-size='19.3' text-anchor='start' transform='translate(940.63 421.40) scale(1 1.04)' ><tspan>2mA</tspan></text>
<text x='0' y='0' font-family="'Liberation Sans', Arial, Helvetica, sans-serif" font-size='19.3' text-anchor='start' transform='translate(961.13 527.40) scale(1 1.04)' ><tspan>1mA</tspan></text>
<text x='0' y='0' font-family="'Liberation Sans', Arial, Helvetica, sans-serif" font-size='19.3' text-anchor='start' transform='translate(994.25 552.80) scale(1 1.04)' ><tspan>0.8mA</tspan></text>
<text x='0' y='0' font-family="'Liberation Sans', Arial, Helvetica, sans-serif" font-size='19.3' text-anchor='start' transform='translate(994.25 591.60) scale(1 1.04)' ><tspan>0.6mA</tspan></text>
<text x='0' y='0' font-family="'Liberation Sans', Arial, Helvetica, sans-serif" font-size='19.3' text-anchor='start' transform='translate(1022.45 628.50) scale(1 1.04)' ><tspan>0.4mA</tspan></text>
<text x='0' y='0' font-family="'Liberation Sans', Arial, Helvetica, sans-serif" font-size='19.3' text-anchor='start' transform='translate(1022.45 667.60) scale(1 1.04)' ><tspan>0.2mA</tspan></text>
<text x='0' y='0' font-family="'Liberation Sans', Arial, Helvetica, sans-serif" font-size='19.3' text-anchor='start' transform='translate(1022.45 710.00) scale(1 1.04)' ><tspan>0.1mA</tspan></text>
<text x='0' y='0' font-family="'Liberation Serif', 'Times New Roman', serif" font-size='31.3' xml:space='preserve' style='white-space:pre' transform='translate(853.87 229.00) scale(1 1.0)' ><tspan>I</tspan><tspan dy='5.79' font-size='21.91'>C</tspan><tspan dy='-5.79'> — V</tspan><tspan dy='5.79' font-size='21.91'>CE</tspan></text>
<text x='0' y='0' font-family="'Liberation Sans', Arial, Helvetica, sans-serif" font-size='24.55' xml:space='preserve' style='white-space:pre' transform='translate(690.00 648.86) rotate(-90) scale(1.012 1.04)' ><tspan>Collector current   I</tspan><tspan dy='6.63' font-size='17.68'>C</tspan><tspan dy='-6.63'>   (A)</tspan></text>
<text x='0' y='0' font-family="'Liberation Sans', Arial, Helvetica, sans-serif" font-size='24.3' xml:space='preserve' style='white-space:pre' transform='translate(724.47 812.80) scale(1 1.04)' ><tspan>Collector to emitter voltage   V</tspan><tspan dy='6.56' font-size='17.50'>CE</tspan><tspan dy='-6.56'>   (V)</tspan></text>
<text x='0' y='0' font-family="'Liberation Sans', Arial, Helvetica, sans-serif" font-size='19.3' text-anchor='end' transform='translate(1248.00 756.40) scale(1 1.0)' ><tspan>0.01</tspan></text>
<text x='0' y='0' font-family="'Liberation Sans', Arial, Helvetica, sans-serif" font-size='19.3' text-anchor='end' transform='translate(1248.00 686.88) scale(1 1.0)' ><tspan>0.03</tspan></text>
<text x='0' y='0' font-family="'Liberation Sans', Arial, Helvetica, sans-serif" font-size='19.3' text-anchor='end' transform='translate(1248.00 610.69) scale(1 1.0)' ><tspan>0.1</tspan></text>
<text x='0' y='0' font-family="'Liberation Sans', Arial, Helvetica, sans-serif" font-size='19.3' text-anchor='end' transform='translate(1248.00 541.17) scale(1 1.0)' ><tspan>0.3</tspan></text>
<text x='0' y='0' font-family="'Liberation Sans', Arial, Helvetica, sans-serif" font-size='19.3' text-anchor='end' transform='translate(1248.00 464.98) scale(1 1.0)' ><tspan>1</tspan></text>
<text x='0' y='0' font-family="'Liberation Sans', Arial, Helvetica, sans-serif" font-size='19.3' text-anchor='end' transform='translate(1248.00 395.45) scale(1 1.0)' ><tspan>3</tspan></text>
<text x='0' y='0' font-family="'Liberation Sans', Arial, Helvetica, sans-serif" font-size='19.3' text-anchor='end' transform='translate(1248.00 319.26) scale(1 1.0)' ><tspan>10</tspan></text>
<text x='0' y='0' font-family="'Liberation Sans', Arial, Helvetica, sans-serif" font-size='19.3' text-anchor='middle' transform='translate(1256.50 775.50) scale(1 1.0)' ><tspan>0.01</tspan></text>
<text x='0' y='0' font-family="'Liberation Sans', Arial, Helvetica, sans-serif" font-size='19.3' text-anchor='middle' transform='translate(1324.68 775.50) scale(1 1.0)' ><tspan>0.03</tspan></text>
<text x='0' y='0' font-family="'Liberation Sans', Arial, Helvetica, sans-serif" font-size='19.3' text-anchor='middle' transform='translate(1399.41 775.50) scale(1 1.0)' ><tspan>0.1</tspan></text>
<text x='0' y='0' font-family="'Liberation Sans', Arial, Helvetica, sans-serif" font-size='19.3' text-anchor='middle' transform='translate(1467.59 775.50) scale(1 1.0)' ><tspan>0.3</tspan></text>
<text x='0' y='0' font-family="'Liberation Sans', Arial, Helvetica, sans-serif" font-size='19.3' text-anchor='middle' transform='translate(1542.32 775.50) scale(1 1.0)' ><tspan>1</tspan></text>
<text x='0' y='0' font-family="'Liberation Sans', Arial, Helvetica, sans-serif" font-size='19.3' text-anchor='middle' transform='translate(1610.50 775.50) scale(1 1.0)' ><tspan>3</tspan></text>
<text x='0' y='0' font-family="'Liberation Sans', Arial, Helvetica, sans-serif" font-size='19.3' text-anchor='start' transform='translate(1535.22 296.60) scale(1 1.04)' ><tspan>I</tspan><tspan dy='5.21' font-size='13.90'>C</tspan><tspan dy='-5.21'>/I</tspan><tspan dy='5.21' font-size='13.90'>B</tspan><tspan dy='-5.21'>=40</tspan></text>
<path d='M1256.50,637.72 L1259.17,637.60 L1261.81,637.49 L1264.43,637.38 L1267.03,637.28 L1269.63,637.17 L1272.22,637.07 L1274.81,636.97 L1277.42,636.86 L1280.04,636.75 L1282.69,636.64 L1285.38,636.52 L1288.10,636.40 L1290.87,636.26 L1293.69,636.12 L1296.57,635.96 L1299.52,635.80 L1303.30,635.59 L1307.17,635.38 L1311.13,635.17 L1315.17,634.96 L1319.28,634.74 L1323.44,634.52 L1327.66,634.28 L1331.93,634.03 L1336.22,633.76 L1340.55,633.46 L1344.89,633.14 L1349.24,632.79 L1353.59,632.41 L1357.93,632.00 L1362.26,631.54 L1366.56,631.05 L1371.18,630.48 L1375.94,629.88 L1380.83,629.24 L1385.79,628.56 L1390.81,627.86 L1395.86,627.12 L1400.90,626.35 L1405.90,625.55 L1410.83,624.73 L1415.66,623.88 L1420.36,623.00 L1424.90,622.11 L1429.25,621.18 L1433.38,620.24 L1437.26,619.28 L1440.86,618.31 L1442.93,617.71 L1444.91,617.13 L1446.79,616.57 L1448.59,616.01 L1450.32,615.45 L1451.99,614.89 L1453.61,614.31 L1455.19,613.71 L1456.74,613.09 L1458.27,612.43 L1459.78,611.73 L1461.30,610.98 L1462.83,610.18 L1464.38,609.31 L1465.97,608.38 L1467.59,607.37 L1469.61,606.03 L1471.62,604.59 L1473.64,603.05 L1475.66,601.43 L1477.67,599.72 L1479.68,597.94 L1481.68,596.10 L1483.68,594.21 L1485.67,592.27 L1487.66,590.30 L1489.63,588.29 L1491.59,586.27 L1493.54,584.23 L1495.47,582.19 L1497.39,580.15 L1499.30,578.13 L1501.31,575.97 L1503.35,573.77 L1505.39,571.53 L1507.44,569.25 L1509.49,566.94 L1511.53,564.61 L1513.55,562.25 L1515.54,559.87 L1517.51,557.47 L1519.44,555.07 L1521.32,552.66 L1523.16,550.25 L1524.93,547.85 L1526.65,545.45 L1528.29,543.07 L1529.85,540.70 L1531.15,538.63 L1532.38,536.55 L1533.54,534.48 L1534.66,532.40 L1535.73,530.31 L1536.75,528.23 L1537.75,526.14 L1538.72,524.06 L1539.67,521.97 L1540.61,519.88 L1541.54,517.79 L1542.48,515.70 L1543.43,513.61 L1544.39,511.53 L1545.38,509.44 L1546.40,507.35 L1547.45,505.27 L1548.51,503.19 L1549.59,501.11 L1550.67,499.03 L1551.76,496.95 L1552.86,494.87 L1553.95,492.79 L1555.03,490.71 L1556.11,488.63 L1557.17,486.55 L1558.21,484.46 L1559.23,482.37 L1560.23,480.28 L1561.19,478.18 L1562.13,476.07 L1563.02,473.96 L1563.85,471.90 L1564.66,469.83 L1565.43,467.74 L1566.18,465.65 L1566.90,463.55 L1567.61,461.44 L1568.30,459.33 L1568.97,457.23 L1569.63,455.12 L1570.29,453.03 L1570.93,450.94 L1571.57,448.87 L1572.21,446.81 L1572.85,444.77 L1573.49,442.74 L1574.14,440.75 L1574.74,438.94 L1575.32,437.16 L1575.90,435.39 L1576.47,433.63 L1577.03,431.88 L1577.59,430.15 L1578.15,428.42 L1578.70,426.70 L1579.26,424.99 L1579.81,423.27 L1580.36,421.56 L1580.91,419.85 L1581.46,418.13 L1582.01,416.42 L1582.56,414.69 L1583.12,412.96' fill='none' stroke='#000' stroke-width='4.0' stroke-linejoin='round' stroke-linecap='butt'/>
<path d='M1256.50,640.93 L1259.17,640.78 L1261.81,640.64 L1264.43,640.50 L1267.03,640.36 L1269.63,640.23 L1272.22,640.09 L1274.81,639.96 L1277.42,639.82 L1280.04,639.68 L1282.69,639.53 L1285.38,639.38 L1288.10,639.22 L1290.87,639.05 L1293.69,638.87 L1296.57,638.68 L1299.52,638.48 L1303.30,638.22 L1307.17,637.96 L1311.13,637.70 L1315.17,637.44 L1319.28,637.17 L1323.45,636.89 L1327.67,636.59 L1331.93,636.28 L1336.23,635.95 L1340.55,635.60 L1344.89,635.22 L1349.24,634.81 L1353.59,634.37 L1357.93,633.90 L1362.26,633.38 L1366.56,632.83 L1371.18,632.19 L1375.95,631.51 L1380.83,630.80 L1385.80,630.04 L1390.82,629.25 L1395.86,628.43 L1400.90,627.58 L1405.90,626.70 L1410.83,625.79 L1415.66,624.87 L1420.36,623.92 L1424.90,622.95 L1429.25,621.97 L1433.38,620.97 L1437.26,619.96 L1440.86,618.95 L1442.93,618.33 L1444.90,617.72 L1446.78,617.14 L1448.58,616.55 L1450.30,615.97 L1451.97,615.38 L1453.58,614.79 L1455.15,614.17 L1456.70,613.53 L1458.22,612.86 L1459.74,612.16 L1461.26,611.42 L1462.80,610.62 L1464.36,609.78 L1465.95,608.87 L1467.59,607.91 L1469.58,606.67 L1471.58,605.36 L1473.58,603.99 L1475.58,602.55 L1477.58,601.05 L1479.58,599.49 L1481.58,597.88 L1483.58,596.22 L1485.57,594.51 L1487.56,592.76 L1489.54,590.97 L1491.51,589.15 L1493.47,587.30 L1495.43,585.42 L1497.37,583.52 L1499.30,581.60 L1501.49,579.36 L1503.72,577.04 L1505.98,574.64 L1508.24,572.17 L1510.51,569.65 L1512.77,567.07 L1515.02,564.45 L1517.24,561.81 L1519.42,559.14 L1521.56,556.47 L1523.65,553.79 L1525.68,551.12 L1527.63,548.46 L1529.50,545.84 L1531.28,543.24 L1532.95,540.70 L1534.27,538.59 L1535.52,536.49 L1536.69,534.40 L1537.81,532.30 L1538.87,530.22 L1539.89,528.13 L1540.87,526.05 L1541.82,523.98 L1542.75,521.90 L1543.67,519.82 L1544.58,517.75 L1545.50,515.67 L1546.43,513.60 L1547.37,511.52 L1548.34,509.44 L1549.35,507.35 L1550.38,505.26 L1551.43,503.16 L1552.49,501.05 L1553.55,498.94 L1554.62,496.83 L1555.70,494.71 L1556.76,492.59 L1557.83,490.48 L1558.88,488.38 L1559.93,486.28 L1560.96,484.19 L1561.97,482.11 L1562.97,480.05 L1563.94,478.00 L1564.89,475.97 L1565.80,473.96 L1566.60,472.18 L1567.38,470.39 L1568.14,468.60 L1568.89,466.82 L1569.62,465.04 L1570.35,463.27 L1571.06,461.51 L1571.76,459.76 L1572.44,458.02 L1573.12,456.31 L1573.79,454.62 L1574.46,452.94 L1575.11,451.30 L1575.76,449.68 L1576.41,448.09 L1577.05,446.54 L1577.56,445.30 L1578.07,444.08 L1578.57,442.89 L1579.06,441.72 L1579.54,440.57 L1580.02,439.44 L1580.49,438.31 L1580.96,437.20 L1581.43,436.10 L1581.90,434.99 L1582.36,433.90 L1582.83,432.80 L1583.29,431.69 L1583.76,430.58 L1584.23,429.46 L1584.71,428.33' fill='none' stroke='#000' stroke-width='4.0' stroke-linejoin='round' stroke-linecap='butt'/>
<path d='M1256.50,643.96 L1259.17,643.80 L1261.81,643.64 L1264.43,643.49 L1267.03,643.35 L1269.63,643.20 L1272.22,643.06 L1274.81,642.92 L1277.42,642.77 L1280.05,642.62 L1282.70,642.46 L1285.38,642.29 L1288.10,642.12 L1290.87,641.93 L1293.69,641.73 L1296.57,641.51 L1299.52,641.28 L1303.30,640.97 L1307.17,640.66 L1311.14,640.35 L1315.17,640.03 L1319.28,639.69 L1323.45,639.35 L1327.67,638.98 L1331.93,638.60 L1336.23,638.20 L1340.56,637.77 L1344.90,637.31 L1349.25,636.83 L1353.60,636.31 L1357.94,635.76 L1362.26,635.18 L1366.56,634.55 L1371.18,633.84 L1375.95,633.07 L1380.83,632.25 L1385.79,631.39 L1390.81,630.49 L1395.85,629.56 L1400.88,628.59 L1405.88,627.61 L1410.80,626.60 L1415.63,625.59 L1420.34,624.57 L1424.88,623.54 L1429.23,622.51 L1433.37,621.50 L1437.25,620.50 L1440.86,619.51 L1442.92,618.93 L1444.88,618.37 L1446.75,617.82 L1448.53,617.29 L1450.25,616.77 L1451.90,616.24 L1453.51,615.71 L1455.08,615.17 L1456.63,614.61 L1458.15,614.03 L1459.68,613.42 L1461.21,612.78 L1462.75,612.10 L1464.32,611.37 L1465.93,610.59 L1467.59,609.76 L1469.56,608.72 L1471.54,607.62 L1473.53,606.47 L1475.52,605.26 L1477.52,604.01 L1479.53,602.71 L1481.54,601.37 L1483.54,599.99 L1485.55,598.58 L1487.55,597.14 L1489.54,595.68 L1491.52,594.20 L1493.49,592.71 L1495.44,591.20 L1497.38,589.68 L1499.30,588.17 L1501.29,586.55 L1503.31,584.89 L1505.33,583.18 L1507.36,581.42 L1509.38,579.64 L1511.40,577.83 L1513.40,576.00 L1515.39,574.16 L1517.34,572.31 L1519.27,570.48 L1521.16,568.65 L1523.01,566.84 L1524.81,565.05 L1526.55,563.30 L1528.23,561.59 L1529.85,559.92 L1531.06,558.67 L1532.24,557.45 L1533.38,556.27 L1534.50,555.12 L1535.58,553.98 L1536.64,552.86 L1537.67,551.75 L1538.68,550.63 L1539.68,549.50 L1540.66,548.35 L1541.63,547.18 L1542.59,545.97 L1543.55,544.73 L1544.50,543.44 L1545.45,542.10 L1546.40,540.70 L1547.55,538.92 L1548.69,537.06 L1549.82,535.14 L1550.94,533.16 L1552.05,531.13 L1553.14,529.05 L1554.21,526.93 L1555.27,524.78 L1556.31,522.61 L1557.34,520.42 L1558.34,518.22 L1559.32,516.02 L1560.28,513.83 L1561.22,511.65 L1562.13,509.49 L1563.02,507.35 L1563.85,505.28 L1564.64,503.18 L1565.39,501.06 L1566.12,498.92 L1566.82,496.77 L1567.49,494.61 L1568.16,492.46 L1568.81,490.31 L1569.45,488.17 L1570.09,486.05 L1570.73,483.94 L1571.38,481.87 L1572.04,479.83 L1572.72,477.83 L1573.42,475.87 L1574.14,473.96 L1574.78,472.38 L1575.42,470.82 L1576.06,469.30 L1576.72,467.81 L1577.37,466.33 L1578.03,464.88 L1578.70,463.45 L1579.36,462.02 L1580.03,460.61 L1580.70,459.20 L1581.38,457.79 L1582.05,456.39 L1582.72,454.98 L1583.38,453.56 L1584.05,452.12 L1584.71,450.68' fill='none' stroke='#000' stroke-width='4.0' stroke-linejoin='round' stroke-linecap='butt'/>
<text x='0' y='0' font-family="'Liberation Sans', Arial, Helvetica, sans-serif" font-size='19.3' text-anchor='start' transform='translate(1516.07 403.40) scale(1 1.04)' ><tspan>T</tspan><tspan dy='5.21' font-size='13.90'>C</tspan><tspan dy='-5.21'>=100</tspan><tspan dy='-4.25' dx='0.77' font-size='14.28'>°</tspan><tspan dy='4.25' dx='1.16'>C</tspan></text>
<text x='0' y='0' font-family="'Liberation Sans', Arial, Helvetica, sans-serif" font-size='19.3' text-anchor='start' transform='translate(1484.43 475.20) scale(1 1.04)' ><tspan>25</tspan><tspan dy='-4.25' dx='0.77' font-size='14.28'>°</tspan><tspan dy='4.25' dx='1.16'>C</tspan></text>
<line x1='1514.20' y1='480.50' x2='1538.54' y2='504.99' stroke='#000' stroke-width='2.6'/>
<polygon points='1547.00,513.50 1533.93,508.16 1541.74,500.40' fill='#000'/>
<text x='0' y='0' font-family="'Liberation Sans', Arial, Helvetica, sans-serif" font-size='19.3' text-anchor='start' transform='translate(1546.75 564.80) scale(1 1.04)' ><tspan>−25</tspan><tspan dy='-4.25' dx='0.77' font-size='14.28'>°</tspan><tspan dy='4.25' dx='1.16'>C</tspan></text>
<text x='0' y='0' font-family="'Liberation Serif', 'Times New Roman', serif" font-size='31.3' xml:space='preserve' style='white-space:pre' transform='translate(1337.85 229.00) scale(1 1.0)' ><tspan>V</tspan><tspan dy='5.79' font-size='21.91'>CE(sat)</tspan><tspan dy='-5.79'> — I</tspan><tspan dy='5.79' font-size='21.91'>C</tspan></text>
<text x='0' y='0' font-family="'Liberation Sans', Arial, Helvetica, sans-serif" font-size='24.55' xml:space='preserve' style='white-space:pre' transform='translate(1197.00 755.81) rotate(-90) scale(0.89 1.04)' ><tspan>Collector to emitter saturation voltage   V</tspan><tspan dy='6.63' font-size='17.68'>CE(sat)</tspan><tspan dy='-6.63'>   (V)</tspan></text>
<text x='0' y='0' font-family="'Liberation Sans', Arial, Helvetica, sans-serif" font-size='24.3' xml:space='preserve' style='white-space:pre' transform='translate(1297.47 812.80) scale(1 1.04)' ><tspan>Collector current   I</tspan><tspan dy='6.56' font-size='17.50'>C</tspan><tspan dy='-6.56'>   (A)</tspan></text>
<text x='0' y='0' font-family="'Liberation Sans', Arial, Helvetica, sans-serif" font-size='19.3' text-anchor='end' transform='translate(234.00 1449.40) scale(1 1.0)' ><tspan>0.01</tspan></text>
<text x='0' y='0' font-family="'Liberation Sans', Arial, Helvetica, sans-serif" font-size='19.3' text-anchor='end' transform='translate(234.00 1380.02) scale(1 1.0)' ><tspan>0.03</tspan></text>
<text x='0' y='0' font-family="'Liberation Sans', Arial, Helvetica, sans-serif" font-size='19.3' text-anchor='end' transform='translate(234.00 1303.99) scale(1 1.0)' ><tspan>0.1</tspan></text>
<text x='0' y='0' font-family="'Liberation Sans', Arial, Helvetica, sans-serif" font-size='19.3' text-anchor='end' transform='translate(234.00 1234.61) scale(1 1.0)' ><tspan>0.3</tspan></text>
<text x='0' y='0' font-family="'Liberation Sans', Arial, Helvetica, sans-serif" font-size='19.3' text-anchor='end' transform='translate(234.00 1158.58) scale(1 1.0)' ><tspan>1</tspan></text>
<text x='0' y='0' font-family="'Liberation Sans', Arial, Helvetica, sans-serif" font-size='19.3' text-anchor='end' transform='translate(234.00 1089.20) scale(1 1.0)' ><tspan>3</tspan></text>
<text x='0' y='0' font-family="'Liberation Sans', Arial, Helvetica, sans-serif" font-size='19.3' text-anchor='end' transform='translate(234.00 1013.17) scale(1 1.0)' ><tspan>10</tspan></text>
<text x='0' y='0' font-family="'Liberation Sans', Arial, Helvetica, sans-serif" font-size='19.3' text-anchor='middle' transform='translate(242.50 1468.50) scale(1 1.0)' ><tspan>0.01</tspan></text>
<text x='0' y='0' font-family="'Liberation Sans', Arial, Helvetica, sans-serif" font-size='19.3' text-anchor='middle' transform='translate(310.68 1468.50) scale(1 1.0)' ><tspan>0.03</tspan></text>
<text x='0' y='0' font-family="'Liberation Sans', Arial, Helvetica, sans-serif" font-size='19.3' text-anchor='middle' transform='translate(385.41 1468.50) scale(1 1.0)' ><tspan>0.1</tspan></text>
<text x='0' y='0' font-family="'Liberation Sans', Arial, Helvetica, sans-serif" font-size='19.3' text-anchor='middle' transform='translate(453.59 1468.50) scale(1 1.0)' ><tspan>0.3</tspan></text>
<text x='0' y='0' font-family="'Liberation Sans', Arial, Helvetica, sans-serif" font-size='19.3' text-anchor='middle' transform='translate(528.32 1468.50) scale(1 1.0)' ><tspan>1</tspan></text>
<text x='0' y='0' font-family="'Liberation Sans', Arial, Helvetica, sans-serif" font-size='19.3' text-anchor='middle' transform='translate(596.50 1468.50) scale(1 1.0)' ><tspan>3</tspan></text>
<text x='0' y='0' font-family="'Liberation Sans', Arial, Helvetica, sans-serif" font-size='19.3' text-anchor='start' transform='translate(520.12 990.00) scale(1 1.04)' ><tspan>I</tspan><tspan dy='5.21' font-size='13.90'>C</tspan><tspan dy='-5.21'>/I</tspan><tspan dy='5.21' font-size='13.90'>B</tspan><tspan dy='-5.21'>=40</tspan></text>
<polyline points='242.50,1176.20 256.25,1175.63 270.00,1175.01 283.75,1174.34 297.49,1173.63 311.23,1172.88 324.96,1172.08 338.69,1171.23 352.42,1170.33 366.15,1169.39 379.87,1168.41 393.59,1167.38 407.30,1166.30 421.01,1165.18 434.72,1164.01 448.42,1162.79 462.12,1161.53 475.82,1160.23 489.51,1158.88 503.20,1157.48 516.89,1156.03 530.57,1154.54 544.25,1153.01 557.93,1151.43 571.60,1149.80' fill='none' stroke='#000' stroke-width='4.0' stroke-linejoin='round' stroke-linecap='butt'/>
<polyline points='242.50,1185.70 256.25,1185.34 270.00,1184.91 283.75,1184.39 297.49,1183.80 311.23,1183.13 324.96,1182.38 338.69,1181.54 352.42,1180.63 366.15,1179.64 379.87,1178.57 393.59,1177.43 407.30,1176.20 421.01,1174.89 434.72,1173.51 448.42,1172.04 462.12,1170.50 475.82,1168.88 489.51,1167.17 503.20,1165.39 516.89,1163.53 530.57,1161.59 544.25,1159.58 557.93,1157.48 571.60,1155.30' fill='none' stroke='#000' stroke-width='4.0' stroke-linejoin='round' stroke-linecap='butt'/>
<polyline points='242.50,1208.20 256.25,1207.47 270.00,1206.63 283.75,1205.70 297.49,1204.67 311.23,1203.53 324.96,1202.30 338.69,1200.97 352.42,1199.53 366.15,1198.00 379.87,1196.37 393.59,1194.63 407.30,1192.80 421.01,1190.87 434.72,1188.83 448.42,1186.70 462.12,1184.47 475.82,1182.13 489.51,1179.70 503.20,1177.17 516.89,1174.53 530.57,1171.80 544.25,1168.97 557.93,1166.03 571.60,1163.00' fill='none' stroke='#000' stroke-width='4.0' stroke-linejoin='round' stroke-linecap='butt'/>
<line x1='270.70' y1='1228.00' x2='272.81' y2='1201.45' stroke='#000' stroke-width='2.4'/>
<polygon points='274.00,1186.50 277.22,1202.81 268.25,1202.09' fill='#000'/>
<text x='0' y='0' font-family="'Liberation Sans', Arial, Helvetica, sans-serif" font-size='19.3' text-anchor='start' transform='translate(278.37 1157.90) scale(1 1.04)' ><tspan>T</tspan><tspan dy='5.21' font-size='13.90'>C</tspan><tspan dy='-5.21'>=−25</tspan><tspan dy='-4.25' dx='0.77' font-size='14.28'>°</tspan><tspan dy='4.25' dx='1.16'>C</tspan></text>
<text x='0' y='0' font-family="'Liberation Sans', Arial, Helvetica, sans-serif" font-size='19.3' text-anchor='start' transform='translate(316.43 1223.00) scale(1 1.04)' ><tspan>100</tspan><tspan dy='-4.25' dx='0.77' font-size='14.28'>°</tspan><tspan dy='4.25' dx='1.16'>C</tspan></text>
<text x='0' y='0' font-family="'Liberation Sans', Arial, Helvetica, sans-serif" font-size='19.3' text-anchor='start' transform='translate(258.43 1247.00) scale(1 1.04)' ><tspan>25</tspan><tspan dy='-4.25' dx='0.77' font-size='14.28'>°</tspan><tspan dy='4.25' dx='1.16'>C</tspan></text>
<text x='0' y='0' font-family="'Liberation Serif', 'Times New Roman', serif" font-size='31.3' xml:space='preserve' style='white-space:pre' transform='translate(333.85 920.60) scale(1 1.0)' ><tspan>V</tspan><tspan dy='5.79' font-size='21.91'>BE(sat)</tspan><tspan dy='-5.79'> — I</tspan><tspan dy='5.79' font-size='21.91'>C</tspan></text>
<text x='0' y='0' font-family="'Liberation Sans', Arial, Helvetica, sans-serif" font-size='24.55' xml:space='preserve' style='white-space:pre' transform='translate(183.00 1430.59) rotate(-90) scale(0.891 1.04)' ><tspan>Base to emitter saturation voltage   V</tspan><tspan dy='6.63' font-size='17.68'>BE(sat)</tspan><tspan dy='-6.63'>   (V)</tspan></text>
<text x='0' y='0' font-family="'Liberation Sans', Arial, Helvetica, sans-serif" font-size='24.3' xml:space='preserve' style='white-space:pre' transform='translate(283.47 1505.80) scale(1 1.04)' ><tspan>Collector current   I</tspan><tspan dy='6.56' font-size='17.50'>C</tspan><tspan dy='-6.56'>   (A)</tspan></text>
<text x='0' y='0' font-family="'Liberation Sans', Arial, Helvetica, sans-serif" font-size='19.3' text-anchor='end' transform='translate(741.00 1449.40) scale(1 1.0)' ><tspan>10</tspan></text>
<text x='0' y='0' font-family="'Liberation Sans', Arial, Helvetica, sans-serif" font-size='19.3' text-anchor='end' transform='translate(741.00 1392.15) scale(1 1.0)' ><tspan>30</tspan></text>
<text x='0' y='0' font-family="'Liberation Sans', Arial, Helvetica, sans-serif" font-size='19.3' text-anchor='end' transform='translate(741.00 1329.40) scale(1 1.0)' ><tspan>100</tspan></text>
<text x='0' y='0' font-family="'Liberation Sans', Arial, Helvetica, sans-serif" font-size='19.3' text-anchor='end' transform='translate(741.00 1272.15) scale(1 1.0)' ><tspan>300</tspan></text>
<text x='0' y='0' font-family="'Liberation Sans', Arial, Helvetica, sans-serif" font-size='19.3' text-anchor='end' transform='translate(741.00 1209.40) scale(1 1.0)' ><tspan>1000</tspan></text>
<text x='0' y='0' font-family="'Liberation Sans', Arial, Helvetica, sans-serif" font-size='19.3' text-anchor='end' transform='translate(741.00 1152.15) scale(1 1.0)' ><tspan>3000</tspan></text>
<text x='0' y='0' font-family="'Liberation Sans', Arial, Helvetica, sans-serif" font-size='19.3' text-anchor='end' textLength='43.20' lengthAdjust='spacingAndGlyphs' transform='translate(741.00 1089.40) scale(1 1.0)' ><tspan>10000</tspan></text>
<text x='0' y='0' font-family="'Liberation Sans', Arial, Helvetica, sans-serif" font-size='19.3' text-anchor='end' textLength='40.30' lengthAdjust='spacingAndGlyphs' transform='translate(741.00 1032.15) scale(1 1.0)' ><tspan>30000</tspan></text>
<text x='0' y='0' font-family="'Liberation Sans', Arial, Helvetica, sans-serif" font-size='19.3' text-anchor='end' textLength='46.10' lengthAdjust='spacingAndGlyphs' transform='translate(741.00 969.40) scale(1 1.0)' ><tspan>100000</tspan></text>
<text x='0' y='0' font-family="'Liberation Sans', Arial, Helvetica, sans-serif" font-size='19.3' text-anchor='middle' transform='translate(749.50 1468.50) scale(1 1.0)' ><tspan>0.01</tspan></text>
<text x='0' y='0' font-family="'Liberation Sans', Arial, Helvetica, sans-serif" font-size='19.3' text-anchor='middle' transform='translate(805.80 1468.50) scale(1 1.0)' ><tspan>0.03</tspan></text>
<text x='0' y='0' font-family="'Liberation Sans', Arial, Helvetica, sans-serif" font-size='19.3' text-anchor='middle' transform='translate(867.50 1468.50) scale(1 1.0)' ><tspan>0.1</tspan></text>
<text x='0' y='0' font-family="'Liberation Sans', Arial, Helvetica, sans-serif" font-size='19.3' text-anchor='middle' transform='translate(923.80 1468.50) scale(1 1.0)' ><tspan>0.3</tspan></text>
<text x='0' y='0' font-family="'Liberation Sans', Arial, Helvetica, sans-serif" font-size='19.3' text-anchor='middle' transform='translate(985.50 1468.50) scale(1 1.0)' ><tspan>1</tspan></text>
<text x='0' y='0' font-family="'Liberation Sans', Arial, Helvetica, sans-serif" font-size='19.3' text-anchor='middle' transform='translate(1041.80 1468.50) scale(1 1.0)' ><tspan>3</tspan></text>
<text x='0' y='0' font-family="'Liberation Sans', Arial, Helvetica, sans-serif" font-size='19.3' text-anchor='middle' transform='translate(1103.50 1468.50) scale(1 1.0)' ><tspan>10</tspan></text>
<text x='0' y='0' font-family="'Liberation Sans', Arial, Helvetica, sans-serif" font-size='19.3' text-anchor='start' transform='translate(1029.92 987.70) scale(1 1.04)' ><tspan>V</tspan><tspan dy='5.21' font-size='13.90'>CE</tspan><tspan dy='-5.21'>=4V</tspan></text>
<path d='M749.50,1158.39 L753.70,1158.13 L757.93,1157.84 L762.19,1157.54 L766.48,1157.22 L770.78,1156.89 L775.08,1156.56 L779.37,1156.23 L783.65,1155.92 L787.91,1155.62 L792.13,1155.34 L796.31,1155.08 L800.44,1154.86 L804.51,1154.68 L808.51,1154.54 L812.43,1154.45 L816.27,1154.41 L819.40,1154.42 L822.49,1154.43 L825.54,1154.46 L828.55,1154.51 L831.52,1154.57 L834.46,1154.65 L837.37,1154.76 L840.25,1154.89 L843.10,1155.05 L845.93,1155.23 L848.73,1155.45 L851.52,1155.70 L854.28,1155.98 L857.03,1156.30 L859.77,1156.65 L862.50,1157.05 L864.97,1157.45 L867.42,1157.89 L869.84,1158.36 L872.23,1158.86 L874.60,1159.39 L876.95,1159.95 L879.29,1160.54 L881.62,1161.15 L883.93,1161.77 L886.24,1162.42 L888.55,1163.08 L890.85,1163.75 L893.16,1164.43 L895.47,1165.12 L897.79,1165.81 L900.12,1166.51 L902.50,1167.21 L904.87,1167.91 L907.24,1168.61 L909.61,1169.31 L911.98,1170.02 L914.34,1170.74 L916.71,1171.48 L919.07,1172.24 L921.43,1173.03 L923.79,1173.84 L926.15,1174.69 L928.51,1175.57 L930.86,1176.49 L933.21,1177.47 L935.55,1178.49 L937.90,1179.56 L940.47,1180.78 L943.06,1182.06 L945.68,1183.38 L948.31,1184.74 L950.94,1186.16 L953.58,1187.61 L956.21,1189.10 L958.82,1190.64 L961.41,1192.21 L963.98,1193.82 L966.50,1195.47 L968.99,1197.15 L971.43,1198.87 L973.80,1200.61 L976.12,1202.39 L978.36,1204.19 L980.45,1205.95 L982.52,1207.75 L984.56,1209.60 L986.57,1211.48 L988.55,1213.40 L990.49,1215.36 L992.40,1217.34 L994.26,1219.35 L996.08,1221.38 L997.85,1223.43 L999.57,1225.50 L1001.23,1227.58 L1002.84,1229.67 L1004.39,1231.77 L1005.87,1233.88 L1007.29,1235.98 L1008.51,1237.88 L1009.65,1239.78 L1010.72,1241.68 L1011.73,1243.59 L1012.70,1245.51 L1013.61,1247.43 L1014.49,1249.37 L1015.34,1251.33 L1016.16,1253.31 L1016.97,1255.31 L1017.76,1257.33 L1018.55,1259.38 L1019.33,1261.46 L1020.13,1263.58 L1020.95,1265.73 L1021.78,1267.92 L1022.78,1270.56 L1023.76,1273.29 L1024.72,1276.08 L1025.68,1278.93 L1026.62,1281.83 L1027.55,1284.77 L1028.47,1287.74 L1029.39,1290.73 L1030.30,1293.74 L1031.20,1296.74 L1032.10,1299.74 L1033.00,1302.73 L1033.90,1305.69 L1034.79,1308.61 L1035.69,1311.49 L1036.59,1314.32 L1037.43,1316.93 L1038.28,1319.53 L1039.13,1322.13 L1039.97,1324.72 L1040.82,1327.31 L1041.67,1329.88 L1042.51,1332.44 L1043.34,1334.99 L1044.17,1337.52 L1045.00,1340.03 L1045.81,1342.53 L1046.61,1345.00 L1047.41,1347.44 L1048.19,1349.86 L1048.95,1352.25 L1049.70,1354.61 L1050.34,1356.63 L1050.96,1358.62 L1051.57,1360.58 L1052.17,1362.52 L1052.76,1364.44 L1053.34,1366.34 L1053.92,1368.23 L1054.49,1370.10 L1055.06,1371.97 L1055.62,1373.83 L1056.19,1375.69 L1056.75,1377.55 L1057.32,1379.42 L1057.89,1381.29 L1058.46,1383.18 L1059.04,1385.07' fill='none' stroke='#000' stroke-width='4.0' stroke-linejoin='round' stroke-linecap='butt'/>
<path d='M749.50,1201.31 L755.72,1200.64 L762.03,1199.91 L768.42,1199.13 L774.86,1198.31 L781.34,1197.48 L787.82,1196.64 L794.28,1195.82 L800.71,1195.01 L807.08,1194.25 L813.36,1193.53 L819.54,1192.88 L825.59,1192.31 L831.48,1191.83 L837.21,1191.45 L842.73,1191.20 L848.04,1191.08 L851.76,1191.07 L855.39,1191.10 L858.95,1191.19 L862.42,1191.31 L865.83,1191.47 L869.17,1191.68 L872.44,1191.92 L875.67,1192.20 L878.84,1192.51 L881.97,1192.86 L885.06,1193.24 L888.12,1193.64 L891.15,1194.08 L894.16,1194.54 L897.14,1195.03 L900.12,1195.53 L902.67,1195.99 L905.19,1196.46 L907.67,1196.94 L910.11,1197.45 L912.53,1197.97 L914.92,1198.52 L917.28,1199.08 L919.63,1199.68 L921.95,1200.30 L924.26,1200.95 L926.55,1201.64 L928.83,1202.36 L931.10,1203.11 L933.37,1203.91 L935.64,1204.74 L937.90,1205.61 L940.17,1206.52 L942.44,1207.44 L944.70,1208.38 L946.95,1209.35 L949.19,1210.34 L951.41,1211.36 L953.63,1212.42 L955.83,1213.52 L958.01,1214.67 L960.18,1215.87 L962.33,1217.12 L964.46,1218.44 L966.57,1219.82 L968.66,1221.27 L970.72,1222.79 L972.77,1224.39 L975.12,1226.37 L977.46,1228.47 L979.79,1230.70 L982.10,1233.03 L984.39,1235.45 L986.66,1237.96 L988.90,1240.53 L991.11,1243.17 L993.29,1245.86 L995.43,1248.58 L997.52,1251.33 L999.58,1254.10 L1001.59,1256.87 L1003.54,1259.63 L1005.45,1262.36 L1007.29,1265.07 L1009.00,1267.64 L1010.66,1270.19 L1012.26,1272.74 L1013.80,1275.28 L1015.31,1277.83 L1016.77,1280.40 L1018.20,1282.98 L1019.59,1285.60 L1020.96,1288.25 L1022.31,1290.95 L1023.63,1293.69 L1024.95,1296.50 L1026.25,1299.36 L1027.55,1302.30 L1028.85,1305.32 L1030.15,1308.43 L1031.78,1312.51 L1033.37,1316.75 L1034.92,1321.14 L1036.43,1325.65 L1037.91,1330.28 L1039.37,1334.99 L1040.81,1339.79 L1042.22,1344.65 L1043.63,1349.55 L1045.03,1354.48 L1046.42,1359.42 L1047.82,1364.35 L1049.22,1369.27 L1050.63,1374.14 L1052.06,1378.96 L1053.51,1383.70' fill='none' stroke='#000' stroke-width='4.0' stroke-linejoin='round' stroke-linecap='butt'/>
<path d='M749.50,1220.13 L756.67,1219.83 L764.04,1219.51 L771.55,1219.16 L779.17,1218.79 L786.85,1218.41 L794.54,1218.03 L802.20,1217.65 L809.79,1217.29 L817.26,1216.95 L824.56,1216.63 L831.66,1216.35 L838.51,1216.11 L845.06,1215.92 L851.27,1215.78 L857.10,1215.71 L862.50,1215.72 L865.41,1215.74 L868.17,1215.76 L870.81,1215.79 L873.34,1215.82 L875.76,1215.87 L878.11,1215.92 L880.38,1215.99 L882.60,1216.08 L884.78,1216.19 L886.94,1216.32 L889.08,1216.48 L891.22,1216.67 L893.39,1216.89 L895.58,1217.14 L897.82,1217.44 L900.12,1217.77 L902.50,1218.15 L904.89,1218.56 L907.27,1219.00 L909.66,1219.48 L912.05,1219.98 L914.44,1220.51 L916.83,1221.08 L919.21,1221.67 L921.58,1222.29 L923.95,1222.93 L926.30,1223.60 L928.65,1224.30 L930.99,1225.02 L933.31,1225.77 L935.61,1226.54 L937.90,1227.33 L940.15,1228.14 L942.39,1228.97 L944.63,1229.82 L946.84,1230.70 L949.05,1231.60 L951.25,1232.53 L953.44,1233.48 L955.62,1234.46 L957.79,1235.47 L959.95,1236.50 L962.10,1237.56 L964.25,1238.65 L966.39,1239.77 L968.52,1240.92 L970.65,1242.10 L972.77,1243.31 L975.01,1244.60 L977.27,1245.91 L979.55,1247.23 L981.84,1248.58 L984.13,1249.95 L986.42,1251.35 L988.69,1252.78 L990.94,1254.26 L993.16,1255.77 L995.35,1257.33 L997.49,1258.94 L999.59,1260.61 L1001.62,1262.34 L1003.59,1264.13 L1005.48,1265.99 L1007.29,1267.92 L1009.11,1270.01 L1010.84,1272.16 L1012.49,1274.38 L1014.08,1276.65 L1015.61,1278.98 L1017.08,1281.38 L1018.51,1283.83 L1019.89,1286.34 L1021.23,1288.90 L1022.55,1291.53 L1023.84,1294.21 L1025.11,1296.94 L1026.37,1299.73 L1027.63,1302.58 L1028.89,1305.48 L1030.15,1308.43 L1031.74,1312.31 L1033.27,1316.36 L1034.75,1320.55 L1036.19,1324.88 L1037.58,1329.32 L1038.94,1333.85 L1040.27,1338.46 L1041.58,1343.14 L1042.88,1347.86 L1044.16,1352.61 L1045.44,1357.37 L1046.72,1362.13 L1048.01,1366.86 L1049.32,1371.55 L1050.64,1376.19 L1051.99,1380.75' fill='none' stroke='#000' stroke-width='4.0' stroke-linejoin='round' stroke-linecap='butt'/>
<text x='0' y='0' font-family="'Liberation Sans', Arial, Helvetica, sans-serif" font-size='19.3' text-anchor='start' transform='translate(793.27 1144.80) scale(1 1.04)' ><tspan>T</tspan><tspan dy='5.21' font-size='13.90'>C</tspan><tspan dy='-5.21'>=100</tspan><tspan dy='-4.25' dx='0.77' font-size='14.28'>°</tspan><tspan dy='4.25' dx='1.16'>C</tspan></text>
<text x='0' y='0' font-family="'Liberation Sans', Arial, Helvetica, sans-serif" font-size='19.3' text-anchor='start' transform='translate(793.63 1185.40) scale(1 1.04)' ><tspan>25</tspan><tspan dy='-4.25' dx='0.77' font-size='14.28'>°</tspan><tspan dy='4.25' dx='1.16'>C</tspan></text>
<text x='0' y='0' font-family="'Liberation Sans', Arial, Helvetica, sans-serif" font-size='19.3' text-anchor='start' transform='translate(789.25 1238.90) scale(1 1.04)' ><tspan>−25</tspan><tspan dy='-4.25' dx='0.77' font-size='14.28'>°</tspan><tspan dy='4.25' dx='1.16'>C</tspan></text>
<text x='0' y='0' font-family="'Liberation Serif', 'Times New Roman', serif" font-size='31.3' xml:space='preserve' style='white-space:pre' transform='translate(859.39 920.60) scale(1 1.0)' ><tspan>h</tspan><tspan dy='5.79' font-size='21.91'>FE</tspan><tspan dy='-5.79'> — I</tspan><tspan dy='5.79' font-size='21.91'>C</tspan></text>
<text x='0' y='0' font-family="'Liberation Sans', Arial, Helvetica, sans-serif" font-size='24.55' xml:space='preserve' style='white-space:pre' transform='translate(690.00 1387.69) rotate(-90) scale(0.989 1.04)' ><tspan>Forward current transfer ratio   h</tspan><tspan dy='6.63' font-size='17.68'>FE</tspan></text>
<text x='0' y='0' font-family="'Liberation Sans', Arial, Helvetica, sans-serif" font-size='24.3' xml:space='preserve' style='white-space:pre' transform='translate(790.47 1505.80) scale(1 1.04)' ><tspan>Collector current   I</tspan><tspan dy='6.56' font-size='17.50'>C</tspan><tspan dy='-6.56'>   (A)</tspan></text>
<text x='0' y='0' font-family="'Liberation Sans', Arial, Helvetica, sans-serif" font-size='19.3' text-anchor='end' transform='translate(1248.00 1449.40) scale(1 1.0)' ><tspan>0.1</tspan></text>
<text x='0' y='0' font-family="'Liberation Sans', Arial, Helvetica, sans-serif" font-size='19.3' text-anchor='end' transform='translate(1248.00 1392.15) scale(1 1.0)' ><tspan>0.3</tspan></text>
<text x='0' y='0' font-family="'Liberation Sans', Arial, Helvetica, sans-serif" font-size='19.3' text-anchor='end' transform='translate(1248.00 1329.40) scale(1 1.0)' ><tspan>1</tspan></text>
<text x='0' y='0' font-family="'Liberation Sans', Arial, Helvetica, sans-serif" font-size='19.3' text-anchor='end' transform='translate(1248.00 1272.15) scale(1 1.0)' ><tspan>3</tspan></text>
<text x='0' y='0' font-family="'Liberation Sans', Arial, Helvetica, sans-serif" font-size='19.3' text-anchor='end' transform='translate(1248.00 1209.40) scale(1 1.0)' ><tspan>10</tspan></text>
<text x='0' y='0' font-family="'Liberation Sans', Arial, Helvetica, sans-serif" font-size='19.3' text-anchor='end' transform='translate(1248.00 1152.15) scale(1 1.0)' ><tspan>30</tspan></text>
<text x='0' y='0' font-family="'Liberation Sans', Arial, Helvetica, sans-serif" font-size='19.3' text-anchor='end' transform='translate(1248.00 1089.40) scale(1 1.0)' ><tspan>100</tspan></text>
<text x='0' y='0' font-family="'Liberation Sans', Arial, Helvetica, sans-serif" font-size='19.3' text-anchor='end' transform='translate(1248.00 1032.15) scale(1 1.0)' ><tspan>300</tspan></text>
<text x='0' y='0' font-family="'Liberation Sans', Arial, Helvetica, sans-serif" font-size='19.3' text-anchor='end' transform='translate(1248.00 969.40) scale(1 1.0)' ><tspan>1000</tspan></text>
<text x='0' y='0' font-family="'Liberation Sans', Arial, Helvetica, sans-serif" font-size='19.3' text-anchor='middle' transform='translate(1256.50 1468.50) scale(1 1.0)' ><tspan>0.01</tspan></text>
<text x='0' y='0' font-family="'Liberation Sans', Arial, Helvetica, sans-serif" font-size='19.3' text-anchor='middle' transform='translate(1312.80 1468.50) scale(1 1.0)' ><tspan>0.03</tspan></text>
<text x='0' y='0' font-family="'Liberation Sans', Arial, Helvetica, sans-serif" font-size='19.3' text-anchor='middle' transform='translate(1374.50 1468.50) scale(1 1.0)' ><tspan>0.1</tspan></text>
<text x='0' y='0' font-family="'Liberation Sans', Arial, Helvetica, sans-serif" font-size='19.3' text-anchor='middle' transform='translate(1430.80 1468.50) scale(1 1.0)' ><tspan>0.3</tspan></text>
<text x='0' y='0' font-family="'Liberation Sans', Arial, Helvetica, sans-serif" font-size='19.3' text-anchor='middle' transform='translate(1492.50 1468.50) scale(1 1.0)' ><tspan>1</tspan></text>
<text x='0' y='0' font-family="'Liberation Sans', Arial, Helvetica, sans-serif" font-size='19.3' text-anchor='middle' transform='translate(1548.80 1468.50) scale(1 1.0)' ><tspan>3</tspan></text>
<text x='0' y='0' font-family="'Liberation Sans', Arial, Helvetica, sans-serif" font-size='19.3' text-anchor='middle' transform='translate(1610.50 1468.50) scale(1 1.0)' ><tspan>10</tspan></text>
<text x='0' y='0' font-family="'Liberation Sans', Arial, Helvetica, sans-serif" font-size='19.3' text-anchor='start' transform='translate(1512.92 987.10) scale(1 1.04)' ><tspan>V</tspan><tspan dy='5.21' font-size='13.90'>CE</tspan><tspan dy='-5.21'>=12V</tspan></text>
<text x='0' y='0' font-family="'Liberation Sans', Arial, Helvetica, sans-serif" font-size='19.3' text-anchor='start' transform='translate(1512.73 1010.25) scale(1 1.04)' ><tspan>f=10MHz</tspan></text>
<text x='0' y='0' font-family="'Liberation Sans', Arial, Helvetica, sans-serif" font-size='19.3' text-anchor='start' transform='translate(1512.57 1033.40) scale(1 1.04)' ><tspan>T</tspan><tspan dy='5.21' font-size='13.90'>C</tspan><tspan dy='-5.21'>=25</tspan><tspan dy='-4.25' dx='0.77' font-size='14.28'>°</tspan><tspan dy='4.25' dx='1.16'>C</tspan></text>
<path d='M1256.50,1179.66 L1258.50,1178.47 L1260.48,1177.28 L1262.45,1176.08 L1264.41,1174.88 L1266.36,1173.68 L1268.32,1172.48 L1270.28,1171.27 L1272.24,1170.08 L1274.22,1168.88 L1276.20,1167.69 L1278.20,1166.50 L1280.22,1165.32 L1282.27,1164.15 L1284.34,1162.99 L1286.44,1161.84 L1288.58,1160.70 L1290.95,1159.46 L1293.36,1158.20 L1295.80,1156.93 L1298.26,1155.66 L1300.75,1154.40 L1303.26,1153.14 L1305.80,1151.89 L1308.35,1150.66 L1310.92,1149.45 L1313.50,1148.26 L1316.10,1147.10 L1318.70,1145.97 L1321.31,1144.88 L1323.93,1143.83 L1326.56,1142.83 L1329.18,1141.88 L1331.85,1140.98 L1334.60,1140.10 L1337.41,1139.27 L1340.27,1138.46 L1343.16,1137.68 L1346.07,1136.94 L1348.97,1136.23 L1351.87,1135.55 L1354.73,1134.90 L1357.54,1134.28 L1360.29,1133.69 L1362.96,1133.13 L1365.53,1132.59 L1367.99,1132.09 L1370.33,1131.62 L1372.51,1131.17 L1373.82,1130.91 L1375.07,1130.65 L1376.27,1130.41 L1377.43,1130.18 L1378.55,1129.97 L1379.64,1129.76 L1380.70,1129.57 L1381.74,1129.39 L1382.77,1129.22 L1383.79,1129.06 L1384.81,1128.91 L1385.83,1128.77 L1386.85,1128.65 L1387.89,1128.53 L1388.95,1128.43 L1390.03,1128.33 L1391.10,1128.25 L1392.16,1128.16 L1393.20,1128.08 L1394.22,1128.00 L1395.25,1127.94 L1396.27,1127.88 L1397.29,1127.83 L1398.32,1127.80 L1399.37,1127.79 L1400.43,1127.79 L1401.51,1127.82 L1402.62,1127.87 L1403.76,1127.94 L1404.93,1128.04 L1406.14,1128.17 L1407.39,1128.33 L1409.36,1128.63 L1411.42,1129.00 L1413.57,1129.43 L1415.80,1129.91 L1418.09,1130.45 L1420.44,1131.04 L1422.83,1131.68 L1425.27,1132.36 L1427.73,1133.08 L1430.22,1133.84 L1432.71,1134.64 L1435.21,1135.47 L1437.70,1136.33 L1440.17,1137.21 L1442.62,1138.11 L1445.03,1139.03 L1447.71,1140.10 L1450.43,1141.23 L1453.18,1142.42 L1455.96,1143.67 L1458.76,1144.97 L1461.56,1146.31 L1464.37,1147.68 L1467.17,1149.08 L1469.95,1150.51 L1472.70,1151.96 L1475.42,1153.42 L1478.10,1154.89 L1480.73,1156.35 L1483.30,1157.82 L1485.80,1159.27 L1488.23,1160.70 L1490.24,1161.92 L1492.21,1163.14 L1494.12,1164.36 L1496.00,1165.58 L1497.84,1166.80 L1499.65,1168.03 L1501.44,1169.27 L1503.20,1170.51 L1504.95,1171.77 L1506.69,1173.04 L1508.43,1174.32 L1510.17,1175.63 L1511.91,1176.94 L1513.66,1178.28 L1515.43,1179.64 L1517.22,1181.02 L1519.14,1182.52 L1521.06,1184.06 L1522.97,1185.62 L1524.88,1187.20 L1526.79,1188.81 L1528.70,1190.44 L1530.61,1192.08 L1532.51,1193.74 L1534.42,1195.40 L1536.33,1197.07 L1538.23,1198.74 L1540.14,1200.41 L1542.04,1202.08 L1543.95,1203.74 L1545.86,1205.38 L1547.76,1207.02' fill='none' stroke='#000' stroke-width='4.0' stroke-linejoin='round' stroke-linecap='butt'/>
<text x='0' y='0' font-family="'Liberation Serif', 'Times New Roman', serif" font-size='31.3' xml:space='preserve' style='white-space:pre' transform='translate(1370.24 920.60) scale(1 1.0)' ><tspan>f</tspan><tspan dy='5.79' font-size='21.91'>T</tspan><tspan dy='-5.79'> — I</tspan><tspan dy='5.79' font-size='21.91'>C</tspan></text>
<text x='0' y='0' font-family="'Liberation Sans', Arial, Helvetica, sans-serif" font-size='24.55' xml:space='preserve' style='white-space:pre' transform='translate(1197.00 1374.35) rotate(-90) scale(0.991 1.04)' ><tspan>Transition frequency   f</tspan><tspan dy='6.63' font-size='17.68'>T</tspan><tspan dy='-6.63'>   (MHz)</tspan></text>
<text x='0' y='0' font-family="'Liberation Sans', Arial, Helvetica, sans-serif" font-size='24.3' xml:space='preserve' style='white-space:pre' transform='translate(1297.47 1505.80) scale(1 1.04)' ><tspan>Collector current   I</tspan><tspan dy='6.56' font-size='17.50'>C</tspan><tspan dy='-6.56'>   (A)</tspan></text>
<text x='0' y='0' font-family="'Liberation Sans', Arial, Helvetica, sans-serif" font-size='19.3' text-anchor='end' transform='translate(234.00 2138.40) scale(1 1.0)' ><tspan>0.01</tspan></text>
<text x='0' y='0' font-family="'Liberation Sans', Arial, Helvetica, sans-serif" font-size='19.3' text-anchor='end' transform='translate(234.00 2081.15) scale(1 1.0)' ><tspan>0.03</tspan></text>
<text x='0' y='0' font-family="'Liberation Sans', Arial, Helvetica, sans-serif" font-size='19.3' text-anchor='end' transform='translate(234.00 2018.40) scale(1 1.0)' ><tspan>0.1</tspan></text>
<text x='0' y='0' font-family="'Liberation Sans', Arial, Helvetica, sans-serif" font-size='19.3' text-anchor='end' transform='translate(234.00 1961.15) scale(1 1.0)' ><tspan>0.3</tspan></text>
<text x='0' y='0' font-family="'Liberation Sans', Arial, Helvetica, sans-serif" font-size='19.3' text-anchor='end' transform='translate(234.00 1898.40) scale(1 1.0)' ><tspan>1</tspan></text>
<text x='0' y='0' font-family="'Liberation Sans', Arial, Helvetica, sans-serif" font-size='19.3' text-anchor='end' transform='translate(234.00 1841.15) scale(1 1.0)' ><tspan>3</tspan></text>
<text x='0' y='0' font-family="'Liberation Sans', Arial, Helvetica, sans-serif" font-size='19.3' text-anchor='end' transform='translate(234.00 1778.40) scale(1 1.0)' ><tspan>10</tspan></text>
<text x='0' y='0' font-family="'Liberation Sans', Arial, Helvetica, sans-serif" font-size='19.3' text-anchor='end' transform='translate(234.00 1721.15) scale(1 1.0)' ><tspan>30</tspan></text>
<text x='0' y='0' font-family="'Liberation Sans', Arial, Helvetica, sans-serif" font-size='19.3' text-anchor='end' transform='translate(234.00 1658.40) scale(1 1.0)' ><tspan>100</tspan></text>
<text x='0' y='0' font-family="'Liberation Sans', Arial, Helvetica, sans-serif" font-size='19.3' text-anchor='middle' transform='translate(242.50 2157.50) scale(1 1.0)' ><tspan>0</tspan></text>
<text x='0' y='0' font-family="'Liberation Sans', Arial, Helvetica, sans-serif" font-size='19.3' text-anchor='middle' transform='translate(313.30 2157.50) scale(1 1.0)' ><tspan>0.5</tspan></text>
<text x='0' y='0' font-family="'Liberation Sans', Arial, Helvetica, sans-serif" font-size='19.3' text-anchor='middle' transform='translate(384.10 2157.50) scale(1 1.0)' ><tspan>1.0</tspan></text>
<text x='0' y='0' font-family="'Liberation Sans', Arial, Helvetica, sans-serif" font-size='19.3' text-anchor='middle' transform='translate(454.90 2157.50) scale(1 1.0)' ><tspan>1.5</tspan></text>
<text x='0' y='0' font-family="'Liberation Sans', Arial, Helvetica, sans-serif" font-size='19.3' text-anchor='middle' transform='translate(525.70 2157.50) scale(1 1.0)' ><tspan>2.0</tspan></text>
<text x='0' y='0' font-family="'Liberation Sans', Arial, Helvetica, sans-serif" font-size='19.3' text-anchor='middle' transform='translate(596.50 2157.50) scale(1 1.0)' ><tspan>2.5</tspan></text>
<text x='0' y='0' font-family="'Liberation Sans', Arial, Helvetica, sans-serif" font-size='19.3' text-anchor='start' transform='translate(430.62 1674.20) scale(1 1.04)' ><tspan>Pulsed t</tspan><tspan dy='5.21' font-size='13.90'>w</tspan><tspan dy='-5.21'>=1ms</tspan></text>
<text x='0' y='0' font-family="'Liberation Sans', Arial, Helvetica, sans-serif" font-size='19.3' text-anchor='start' transform='translate(430.62 1697.60) scale(1 1.04)' ><tspan>Duty cycle=1%</tspan></text>
<text x='0' y='0' font-family="'Liberation Sans', Arial, Helvetica, sans-serif" font-size='19.3' text-anchor='start' transform='translate(430.42 1721.00) scale(1 1.04)' ><tspan>I</tspan><tspan dy='5.21' font-size='13.90'>C</tspan><tspan dy='-5.21'>/I</tspan><tspan dy='5.21' font-size='13.90'>B</tspan><tspan dy='-5.21'>=40 (I</tspan><tspan dy='5.21' font-size='13.90'>B1</tspan><tspan dy='-5.21'>=−I</tspan><tspan dy='5.21' font-size='13.90'>B2</tspan><tspan dy='-5.21'>)</tspan></text>
<text x='0' y='0' font-family="'Liberation Sans', Arial, Helvetica, sans-serif" font-size='19.3' text-anchor='start' transform='translate(432.12 1744.40) scale(1 1.04)' ><tspan>V</tspan><tspan dy='5.21' font-size='13.90'>CC</tspan><tspan dy='-5.21'>=50V</tspan></text>
<text x='0' y='0' font-family="'Liberation Sans', Arial, Helvetica, sans-serif" font-size='19.3' text-anchor='start' transform='translate(431.77 1767.80) scale(1 1.04)' ><tspan>T</tspan><tspan dy='5.21' font-size='13.90'>C</tspan><tspan dy='-5.21'>=25</tspan><tspan dy='-4.25' dx='0.77' font-size='14.28'>°</tspan><tspan dy='4.25' dx='1.16'>C</tspan></text>
<path d='M261.33,1797.78 L264.51,1799.01 L267.70,1800.25 L270.92,1801.49 L274.15,1802.73 L277.38,1803.98 L280.62,1805.22 L283.86,1806.47 L287.08,1807.71 L290.29,1808.95 L293.48,1810.19 L296.65,1811.42 L299.78,1812.64 L302.87,1813.86 L305.93,1815.07 L308.93,1816.27 L311.88,1817.46 L314.41,1818.49 L316.89,1819.53 L319.35,1820.57 L321.77,1821.61 L324.16,1822.64 L326.54,1823.67 L328.89,1824.70 L331.23,1825.72 L333.55,1826.73 L335.86,1827.73 L338.16,1828.72 L340.46,1829.69 L342.76,1830.64 L345.07,1831.58 L347.37,1832.49 L349.69,1833.38 L351.87,1834.20 L354.04,1835.00 L356.20,1835.79 L358.36,1836.56 L360.51,1837.31 L362.65,1838.05 L364.79,1838.78 L366.93,1839.50 L369.07,1840.21 L371.20,1840.91 L373.34,1841.60 L375.48,1842.29 L377.63,1842.98 L379.78,1843.66 L381.94,1844.34 L384.10,1845.01 L386.28,1845.69 L388.46,1846.35 L390.65,1847.01 L392.85,1847.66 L395.04,1848.30 L397.24,1848.93 L399.44,1849.56 L401.65,1850.18 L403.85,1850.80 L406.05,1851.42 L408.25,1852.04 L410.45,1852.65 L412.65,1853.26 L414.84,1853.88 L417.03,1854.50 L419.22,1855.12 L421.36,1855.73 L423.49,1856.34 L425.60,1856.95 L427.71,1857.56 L429.81,1858.16 L431.90,1858.77 L434.00,1859.37 L436.10,1859.97 L438.21,1860.58 L440.33,1861.18 L442.46,1861.78 L444.62,1862.38 L446.79,1862.98 L448.99,1863.58 L451.22,1864.18 L453.48,1864.77 L456.09,1865.45 L458.77,1866.14 L461.50,1866.82 L464.29,1867.52 L467.11,1868.21 L469.96,1868.90 L472.82,1869.59 L475.68,1870.28 L478.54,1870.96 L481.37,1871.64 L484.18,1872.30 L486.95,1872.96 L489.66,1873.61 L492.31,1874.25 L494.89,1874.87 L497.38,1875.48 L499.31,1875.95 L501.19,1876.41 L503.03,1876.86 L504.82,1877.31 L506.58,1877.74 L508.31,1878.17 L510.03,1878.60 L511.73,1879.02 L513.42,1879.44 L515.12,1879.86 L516.82,1880.28 L518.54,1880.70 L520.28,1881.13 L522.05,1881.56 L523.85,1881.99 L525.70,1882.43 L527.80,1882.94 L529.93,1883.44 L532.09,1883.95 L534.27,1884.46 L536.47,1884.97 L538.68,1885.49 L540.91,1886.00 L543.15,1886.52 L545.40,1887.04 L547.65,1887.56 L549.90,1888.08 L552.16,1888.60 L554.41,1889.12 L556.65,1889.64 L558.88,1890.16 L561.10,1890.67' fill='none' stroke='#000' stroke-width='4.0' stroke-linejoin='round' stroke-linecap='butt'/>
<path d='M258.50,1900.03 L261.85,1899.30 L265.23,1898.54 L268.64,1897.77 L272.05,1896.99 L275.48,1896.20 L278.91,1895.41 L282.33,1894.62 L285.75,1893.84 L289.14,1893.08 L292.51,1892.33 L295.85,1891.60 L299.16,1890.90 L302.42,1890.23 L305.63,1889.60 L308.79,1889.01 L311.88,1888.46 L314.42,1888.04 L316.92,1887.64 L319.38,1887.26 L321.81,1886.90 L324.21,1886.56 L326.59,1886.24 L328.94,1885.94 L331.28,1885.65 L333.60,1885.38 L335.91,1885.12 L338.21,1884.87 L340.50,1884.63 L342.79,1884.40 L345.09,1884.18 L347.39,1883.97 L349.69,1883.77 L351.88,1883.58 L354.06,1883.41 L356.23,1883.26 L358.39,1883.12 L360.54,1882.99 L362.69,1882.87 L364.83,1882.76 L366.97,1882.66 L369.10,1882.57 L371.24,1882.48 L373.37,1882.39 L375.51,1882.31 L377.65,1882.24 L379.79,1882.16 L381.94,1882.08 L384.10,1882.00 L386.26,1881.92 L388.38,1881.84 L390.46,1881.77 L392.53,1881.70 L394.58,1881.63 L396.63,1881.57 L398.69,1881.51 L400.77,1881.45 L402.87,1881.40 L405.02,1881.35 L407.21,1881.31 L409.45,1881.27 L411.77,1881.23 L414.16,1881.19 L416.64,1881.16 L419.22,1881.14 L423.27,1881.11 L427.58,1881.08 L432.11,1881.07 L436.84,1881.07 L441.72,1881.08 L446.74,1881.10 L451.85,1881.12 L457.04,1881.15 L462.26,1881.19 L467.49,1881.23 L472.71,1881.28 L477.87,1881.33 L482.94,1881.39 L487.91,1881.44 L492.73,1881.50 L497.38,1881.57 L501.32,1881.62 L505.20,1881.69 L509.03,1881.76 L512.82,1881.83 L516.56,1881.91 L520.28,1881.99 L523.96,1882.08 L527.62,1882.17 L531.27,1882.25 L534.91,1882.35 L538.54,1882.44 L542.17,1882.53 L545.82,1882.62 L549.47,1882.70 L553.15,1882.79 L556.85,1882.87' fill='none' stroke='#000' stroke-width='4.0' stroke-linejoin='round' stroke-linecap='butt'/>
<path d='M257.08,1883.77 L258.34,1884.51 L259.57,1885.25 L260.79,1886.01 L261.99,1886.77 L263.19,1887.53 L264.39,1888.29 L265.59,1889.05 L266.79,1889.80 L268.02,1890.55 L269.25,1891.30 L270.52,1892.04 L271.81,1892.77 L273.13,1893.49 L274.49,1894.19 L275.89,1894.89 L277.33,1895.56 L279.21,1896.39 L281.14,1897.21 L283.14,1898.02 L285.19,1898.82 L287.29,1899.60 L289.44,1900.37 L291.62,1901.13 L293.83,1901.87 L296.06,1902.60 L298.31,1903.31 L300.58,1904.01 L302.85,1904.68 L305.12,1905.34 L307.39,1905.98 L309.64,1906.60 L311.88,1907.19 L314.19,1907.79 L316.51,1908.37 L318.85,1908.93 L321.21,1909.47 L323.58,1910.00 L325.96,1910.51 L328.34,1911.00 L330.73,1911.48 L333.13,1911.93 L335.52,1912.36 L337.91,1912.76 L340.29,1913.15 L342.66,1913.51 L345.02,1913.84 L347.36,1914.15 L349.69,1914.43 L351.88,1914.67 L354.05,1914.88 L356.22,1915.06 L358.38,1915.21 L360.53,1915.34 L362.67,1915.45 L364.82,1915.54 L366.95,1915.61 L369.09,1915.67 L371.23,1915.72 L373.36,1915.76 L375.50,1915.79 L377.64,1915.82 L379.79,1915.85 L381.94,1915.88 L384.10,1915.91 L386.29,1915.94 L388.47,1915.97 L390.67,1915.99 L392.86,1916.00 L395.06,1916.01 L397.26,1916.01 L399.46,1916.00 L401.66,1915.98 L403.87,1915.96 L406.07,1915.93 L408.26,1915.89 L410.46,1915.84 L412.66,1915.79 L414.85,1915.73 L417.03,1915.66 L419.22,1915.58 L421.36,1915.50 L423.49,1915.41 L425.61,1915.32 L427.72,1915.22 L429.82,1915.11 L431.92,1915.00 L434.02,1914.88 L436.12,1914.75 L438.23,1914.61 L440.35,1914.46 L442.49,1914.30 L444.64,1914.13 L446.81,1913.95 L449.01,1913.75 L451.23,1913.54 L453.48,1913.31 L456.10,1913.04 L458.79,1912.74 L461.53,1912.42 L464.32,1912.08 L467.14,1911.73 L469.99,1911.36 L472.85,1910.97 L475.71,1910.58 L478.57,1910.17 L481.40,1909.76 L484.21,1909.34 L486.97,1908.91 L489.68,1908.48 L492.33,1908.05 L494.90,1907.62 L497.38,1907.19 L499.32,1906.84 L501.20,1906.49 L503.04,1906.14 L504.84,1905.77 L506.60,1905.41 L508.33,1905.04 L510.04,1904.67 L511.74,1904.29 L513.43,1903.91 L515.13,1903.53 L516.83,1903.15 L518.55,1902.76 L520.29,1902.38 L522.05,1901.99 L523.85,1901.60 L525.70,1901.21 L527.80,1900.77 L529.94,1900.33 L532.09,1899.88 L534.27,1899.43 L536.47,1898.97 L538.68,1898.52 L540.91,1898.06 L543.15,1897.60 L545.40,1897.13 L547.65,1896.67 L549.90,1896.21 L552.16,1895.74 L554.41,1895.28 L556.65,1894.82 L558.88,1894.36 L561.10,1893.90' fill='none' stroke='#000' stroke-width='4.0' stroke-linejoin='round' stroke-linecap='butt'/>
<text x='0' y='0' font-family="'Liberation Sans', Arial, Helvetica, sans-serif" font-size='19.3' text-anchor='start' transform='translate(320.51 1807.30) scale(1 1.04)' ><tspan>t</tspan><tspan dy='5.21' font-size='13.90'>stg</tspan></text>
<text x='0' y='0' font-family="'Liberation Sans', Arial, Helvetica, sans-serif" font-size='19.3' text-anchor='start' transform='translate(321.31 1875.40) scale(1 1.04)' ><tspan>t</tspan><tspan dy='5.21' font-size='13.90'>f</tspan></text>
<text x='0' y='0' font-family="'Liberation Sans', Arial, Helvetica, sans-serif" font-size='19.3' text-anchor='start' transform='translate(320.51 1935.30) scale(1 1.04)' ><tspan>t</tspan><tspan dy='5.21' font-size='13.90'>on</tspan></text>
<text x='0' y='0' font-family="'Liberation Serif', 'Times New Roman', serif" font-size='31.3' xml:space='preserve' style='white-space:pre' transform='translate(321.29 1611.70) scale(1 1.0)' ><tspan>t</tspan><tspan dy='5.79' font-size='21.91'>on</tspan><tspan dy='-5.79'>, t</tspan><tspan dy='5.79' font-size='21.91'>stg</tspan><tspan dy='-5.79'>, t</tspan><tspan dy='5.79' font-size='21.91'>f</tspan><tspan dy='-5.79'> — I</tspan><tspan dy='5.79' font-size='21.91'>C</tspan></text>
<text x='0' y='0' font-family="'Liberation Sans', Arial, Helvetica, sans-serif" font-size='24.55' xml:space='preserve' style='white-space:pre' transform='translate(183.00 2051.20) rotate(-90) scale(0.988 1.04)' ><tspan>Switching time   t</tspan><tspan dy='6.63' font-size='17.68'>on</tspan><tspan dy='-6.63'>,t</tspan><tspan dy='6.63' font-size='17.68'>stg</tspan><tspan dy='-6.63'>,t</tspan><tspan dy='6.63' font-size='17.68'>f</tspan><tspan dy='-6.63'>   (µs)</tspan></text>
<text x='0' y='0' font-family="'Liberation Sans', Arial, Helvetica, sans-serif" font-size='24.3' xml:space='preserve' style='white-space:pre' transform='translate(283.47 2194.80) scale(1 1.04)' ><tspan>Collector current   I</tspan><tspan dy='6.56' font-size='17.50'>C</tspan><tspan dy='-6.56'>   (A)</tspan></text>
<text x='0' y='0' font-family="'Liberation Sans', Arial, Helvetica, sans-serif" font-size='19.3' text-anchor='end' transform='translate(741.00 2138.40) scale(1 1.0)' ><tspan>0.01</tspan></text>
<text x='0' y='0' font-family="'Liberation Sans', Arial, Helvetica, sans-serif" font-size='19.3' text-anchor='end' transform='translate(741.00 2081.15) scale(1 1.0)' ><tspan>0.03</tspan></text>
<text x='0' y='0' font-family="'Liberation Sans', Arial, Helvetica, sans-serif" font-size='19.3' text-anchor='end' transform='translate(741.00 2018.40) scale(1 1.0)' ><tspan>0.1</tspan></text>
<text x='0' y='0' font-family="'Liberation Sans', Arial, Helvetica, sans-serif" font-size='19.3' text-anchor='end' transform='translate(741.00 1961.15) scale(1 1.0)' ><tspan>0.3</tspan></text>
<text x='0' y='0' font-family="'Liberation Sans', Arial, Helvetica, sans-serif" font-size='19.3' text-anchor='end' transform='translate(741.00 1898.40) scale(1 1.0)' ><tspan>1</tspan></text>
<text x='0' y='0' font-family="'Liberation Sans', Arial, Helvetica, sans-serif" font-size='19.3' text-anchor='end' transform='translate(741.00 1841.15) scale(1 1.0)' ><tspan>3</tspan></text>
<text x='0' y='0' font-family="'Liberation Sans', Arial, Helvetica, sans-serif" font-size='19.3' text-anchor='end' transform='translate(741.00 1778.40) scale(1 1.0)' ><tspan>10</tspan></text>
<text x='0' y='0' font-family="'Liberation Sans', Arial, Helvetica, sans-serif" font-size='19.3' text-anchor='end' transform='translate(741.00 1721.15) scale(1 1.0)' ><tspan>30</tspan></text>
<text x='0' y='0' font-family="'Liberation Sans', Arial, Helvetica, sans-serif" font-size='19.3' text-anchor='end' transform='translate(741.00 1658.40) scale(1 1.0)' ><tspan>100</tspan></text>
<text x='0' y='0' font-family="'Liberation Sans', Arial, Helvetica, sans-serif" font-size='19.3' text-anchor='middle' transform='translate(749.50 2157.50) scale(1 1.0)' ><tspan>1</tspan></text>
<text x='0' y='0' font-family="'Liberation Sans', Arial, Helvetica, sans-serif" font-size='19.3' text-anchor='middle' transform='translate(805.80 2157.50) scale(1 1.0)' ><tspan>3</tspan></text>
<text x='0' y='0' font-family="'Liberation Sans', Arial, Helvetica, sans-serif" font-size='19.3' text-anchor='middle' transform='translate(867.50 2157.50) scale(1 1.0)' ><tspan>10</tspan></text>
<text x='0' y='0' font-family="'Liberation Sans', Arial, Helvetica, sans-serif" font-size='19.3' text-anchor='middle' transform='translate(923.80 2157.50) scale(1 1.0)' ><tspan>30</tspan></text>
<text x='0' y='0' font-family="'Liberation Sans', Arial, Helvetica, sans-serif" font-size='19.3' text-anchor='middle' transform='translate(985.50 2157.50) scale(1 1.0)' ><tspan>100</tspan></text>
<text x='0' y='0' font-family="'Liberation Sans', Arial, Helvetica, sans-serif" font-size='19.3' text-anchor='middle' transform='translate(1041.80 2157.50) scale(1 1.0)' ><tspan>300</tspan></text>
<text x='0' y='0' font-family="'Liberation Sans', Arial, Helvetica, sans-serif" font-size='19.3' text-anchor='middle' transform='translate(1103.50 2157.50) scale(1 1.0)' ><tspan>1000</tspan></text>
<text x='0' y='0' font-family="'Liberation Sans', Arial, Helvetica, sans-serif" font-size='19.3' text-anchor='start' transform='translate(927.62 1677.10) scale(1 1.04)' ><tspan>Non repetitive pulse</tspan></text>
<text x='0' y='0' font-family="'Liberation Sans', Arial, Helvetica, sans-serif" font-size='19.3' text-anchor='start' transform='translate(928.77 1701.70) scale(1 1.04)' ><tspan>T</tspan><tspan dy='5.21' font-size='13.90'>C</tspan><tspan dy='-5.21'>=25</tspan><tspan dy='-4.25' dx='0.77' font-size='14.28'>°</tspan><tspan dy='4.25' dx='1.16'>C</tspan></text>
<polyline points='749.50,1819.25 931.41,1819.25 958.20,1903.13 974.57,1952.03' fill='none' stroke='#000' stroke-width='4.0' stroke-linejoin='round' stroke-linecap='butt'/>
<polyline points='907.67,1819.25 917.44,1848.09 944.58,1918.12 959.32,1954.25 973.81,1997.83' fill='none' stroke='#000' stroke-width='4.0' stroke-linejoin='round' stroke-linecap='butt'/>
<polyline points='749.50,1855.38 876.41,1855.38 923.29,1904.52 957.50,1989.34 973.09,2021.97' fill='none' stroke='#000' stroke-width='4.0' stroke-linejoin='round' stroke-linecap='butt'/>
<polyline points='958.98,1903.13 958.98,2131.50' fill='none' stroke='#000' stroke-width='4.0' stroke-linejoin='round' stroke-linecap='butt'/>
<polyline points='973.81,1952.03 973.81,2131.50' fill='none' stroke='#000' stroke-width='4.0' stroke-linejoin='round' stroke-linecap='butt'/>
<text x='0' y='0' font-family="'Liberation Sans', Arial, Helvetica, sans-serif" font-size='19.3' text-anchor='start' transform='translate(756.62 1810.20) scale(1 1.04)' ><tspan>I</tspan><tspan dy='5.21' font-size='13.90'>CP</tspan></text>
<text x='0' y='0' font-family="'Liberation Sans', Arial, Helvetica, sans-serif" font-size='19.3' text-anchor='start' transform='translate(758.12 1873.90) scale(1 1.04)' ><tspan>I</tspan><tspan dy='5.21' font-size='13.90'>C</tspan></text>
<text x='0' y='0' font-family="'Liberation Sans', Arial, Helvetica, sans-serif" font-size='19.3' text-anchor='start' transform='translate(957.21 1872.50) scale(1 1.04)' ><tspan>t=1ms</tspan></text>
<text x='0' y='0' font-family="'Liberation Sans', Arial, Helvetica, sans-serif" font-size='19.3' text-anchor='start' transform='translate(837.93 1911.50) scale(1 1.04)' ><tspan>10ms</tspan></text>
<text x='0' y='0' font-family="'Liberation Sans', Arial, Helvetica, sans-serif" font-size='19.3' text-anchor='start' transform='translate(900.92 1951.30) scale(1 1.04)' ><tspan>DC</tspan></text>
<text x='0' y='0' font-family="'Liberation Sans', Arial, Helvetica, sans-serif" font-size='19.3' text-anchor='start' transform='translate(951.50 2126.80) rotate(-90) scale(1 1.04)' ><tspan>2SD1776</tspan></text>
<text x='0' y='0' font-family="'Liberation Sans', Arial, Helvetica, sans-serif" font-size='19.3' text-anchor='start' transform='translate(994.60 2126.80) rotate(-90) scale(1 1.04)' ><tspan>2SD1776A</tspan></text>
<line x1='874.70' y1='1892.60' x2='909.14' y2='1858.63' stroke='#000' stroke-width='2.6'/>
<polygon points='918.40,1849.50 911.94,1862.89 904.92,1855.77' fill='#000'/>
<text x='0' y='0' font-family="'Liberation Serif', 'Times New Roman', serif" font-size='31.3' xml:space='preserve' style='white-space:pre' transform='translate(730.79 1612.00) scale(1 1.0)' ><tspan>Area of safe operation (ASO)</tspan></text>
<text x='0' y='0' font-family="'Liberation Sans', Arial, Helvetica, sans-serif" font-size='24.55' xml:space='preserve' style='white-space:pre' transform='translate(690.00 2026.86) rotate(-90) scale(1.012 1.04)' ><tspan>Collector current   I</tspan><tspan dy='6.63' font-size='17.68'>C</tspan><tspan dy='-6.63'>   (A)</tspan></text>
<text x='0' y='0' font-family="'Liberation Sans', Arial, Helvetica, sans-serif" font-size='24.3' xml:space='preserve' style='white-space:pre' transform='translate(724.47 2194.80) scale(1 1.04)' ><tspan>Collector to emitter voltage   V</tspan><tspan dy='6.56' font-size='17.50'>CE</tspan><tspan dy='-6.56'>   (V)</tspan></text>
<rect x='242.50' y='268.50' width='354.00' height='481.00' fill='none' stroke='#000' stroke-width='3' shape-rendering='crispEdges'/>
<rect x='749.50' y='268.50' width='354.00' height='481.00' fill='none' stroke='#000' stroke-width='3' shape-rendering='crispEdges'/>
<rect x='1256.50' y='268.50' width='354.00' height='481.00' fill='none' stroke='#000' stroke-width='3' shape-rendering='crispEdges'/>
<rect x='242.50' y='962.50' width='354.00' height='480.00' fill='none' stroke='#000' stroke-width='3' shape-rendering='crispEdges'/>
<rect x='749.50' y='962.50' width='354.00' height='480.00' fill='none' stroke='#000' stroke-width='3' shape-rendering='crispEdges'/>
<rect x='1256.50' y='962.50' width='354.00' height='480.00' fill='none' stroke='#000' stroke-width='3' shape-rendering='crispEdges'/>
<rect x='242.50' y='1651.50' width='354.00' height='480.00' fill='none' stroke='#000' stroke-width='3' shape-rendering='crispEdges'/>
<rect x='749.50' y='1651.50' width='354.00' height='480.00' fill='none' stroke='#000' stroke-width='3' shape-rendering='crispEdges'/>
</svg></body></html>
